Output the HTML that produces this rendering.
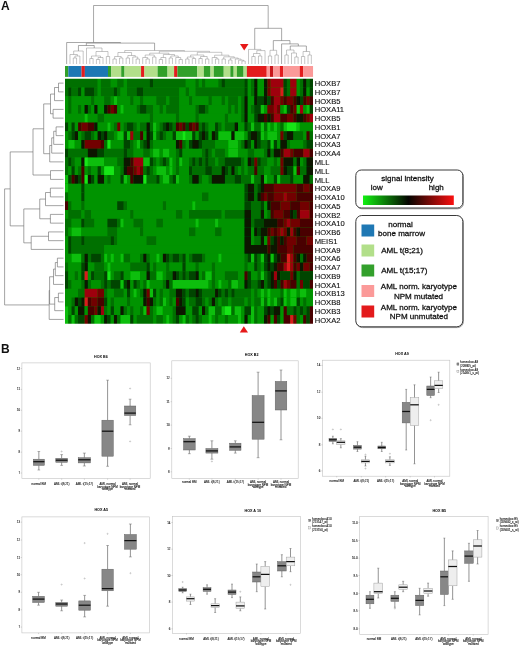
<!DOCTYPE html>
<html lang="en"><head><meta charset="utf-8"><title>HOX gene expression in AML</title>
<style>html,body{margin:0;padding:0;background:#fff}svg{display:block}text{font-family:"Liberation Sans", sans-serif}</style></head><body>
<svg width="520" height="649" viewBox="0 0 520 649">
<defs><linearGradient id="sig" x1="0" x2="1" y1="0" y2="0"><stop offset="0" stop-color="#12f012"/><stop offset="0.5" stop-color="#050500"/><stop offset="1" stop-color="#fa1010"/></linearGradient><filter id="soft" x="-2%" y="-2%" width="104%" height="104%"><feGaussianBlur stdDeviation="0.55"/></filter><filter id="soft2" x="-5%" y="-5%" width="110%" height="110%"><feGaussianBlur stdDeviation="0.3"/></filter><clipPath id="hmclip"><rect x="65" y="78.75" width="248" height="245.05"/></clipPath></defs>
<rect width="520" height="649" fill="#fff"/>
<text x="1" y="9.9" font-size="12" font-weight="bold" fill="#111">A</text>
<text x="1" y="353.4" font-size="12" font-weight="bold" fill="#111">B</text>
<path d="M78.43 45.5L94.24 45.5M78.43 45.5L78.43 51M94.24 45.5L94.24 48M86.34 43.1L154.58 43.1M86.34 43.1L86.34 45.5M154.58 43.1L154.58 50.5M66.65 42.5L120.46 42.5M66.65 42.5L66.65 64M120.46 42.5L120.46 43.1M290.27 46L306.39 46M290.27 46L290.27 50M306.39 46L306.39 51.5M281.59 43.9L298.33 43.9M281.59 43.9L281.59 64M298.33 43.9L298.33 46M273.32 40.6L289.96 40.6M273.32 40.6L273.32 50.3M289.96 40.6L289.96 43.9M254.72 28.3L281.64 28.3M254.72 28.3L254.72 49.4M281.64 28.3L281.64 40.6M93.56 5.5L268.18 5.5M93.56 5.5L93.56 42.5M268.18 5.5L268.18 28.3" fill="none" stroke="#6e6e6e" stroke-width="0.6"/>
<path d="M73.27 58L76.57 58M73.27 58L73.27 64M76.57 58L76.57 64M74.92 56L79.88 56M74.92 56L74.92 58M79.88 56L79.88 64M69.96 54.5L77.4 54.5M69.96 54.5L69.96 64M77.4 54.5L77.4 56M73.68 51L83.19 51M73.68 51L73.68 54.5M83.19 51L83.19 64M89.8 58.5L93.11 58.5M89.8 58.5L89.8 64M93.11 58.5L93.11 64M96.41 59.5L99.72 59.5M96.41 59.5L96.41 64M99.72 59.5L99.72 64M98.07 57.5L103.03 57.5M98.07 57.5L98.07 59.5M103.03 57.5L103.03 64M91.45 56L100.55 56M91.45 56L91.45 58.5M100.55 56L100.55 57.5M106.33 56.5L109.64 56.5M106.33 56.5L106.33 64M109.64 56.5L109.64 64M96 51.5L107.99 51.5M96 51.5L96 56M107.99 51.5L107.99 56.5M86.49 48L101.99 48M86.49 48L86.49 64M101.99 48L101.99 51.5M112.95 59L116.25 59M112.95 59L112.95 64M116.25 59L116.25 64M119.56 58L122.87 58M119.56 58L119.56 64M122.87 58L122.87 64M114.6 56.5L121.21 56.5M114.6 56.5L114.6 59M121.21 56.5L121.21 58M126.17 58L129.48 58M126.17 58L126.17 64M129.48 58L129.48 64M136.09 59L139.4 59M136.09 59L136.09 64M139.4 59L139.4 64M132.79 57L137.75 57M132.79 57L132.79 64M137.75 57L137.75 59M127.83 55.5L135.27 55.5M127.83 55.5L127.83 58M135.27 55.5L135.27 57M117.91 52.5L131.55 52.5M117.91 52.5L117.91 56.5M131.55 52.5L131.55 55.5M146.01 59L149.32 59M146.01 59L146.01 64M149.32 59L149.32 64M142.71 57.5L147.67 57.5M142.71 57.5L142.71 64M147.67 57.5L147.67 59M152.63 57L155.93 57M152.63 57L152.63 64M155.93 57L155.93 64M145.19 55L154.28 55M145.19 55L145.19 57.5M154.28 55L154.28 57M159.24 59.5L162.55 59.5M159.24 59.5L159.24 64M162.55 59.5L162.55 64M160.89 57.5L165.85 57.5M160.89 57.5L160.89 59.5M165.85 57.5L165.85 64M169.16 58L172.47 58M169.16 58L169.16 64M172.47 58L172.47 64M179.08 59.5L182.39 59.5M179.08 59.5L179.08 64M182.39 59.5L182.39 64M175.77 57.5L180.73 57.5M175.77 57.5L175.77 64M180.73 57.5L180.73 59.5M170.81 56L178.25 56M170.81 56L170.81 58M178.25 56L178.25 57.5M163.37 54.5L174.53 54.5M163.37 54.5L163.37 57.5M174.53 54.5L174.53 56M149.73 53.2L168.95 53.2M149.73 53.2L149.73 55M168.95 53.2L168.95 54.5M185.69 59L189 59M185.69 59L185.69 64M189 59L189 64M192.31 58.5L195.61 58.5M192.31 58.5L192.31 64M195.61 58.5L195.61 64M187.35 57L193.96 57M187.35 57L187.35 59M193.96 57L193.96 58.5M198.92 58.5L202.23 58.5M198.92 58.5L198.92 64M202.23 58.5L202.23 64M205.53 59L208.84 59M205.53 59L205.53 64M208.84 59L208.84 64M200.57 56.5L207.19 56.5M200.57 56.5L200.57 58.5M207.19 56.5L207.19 59M190.65 55L203.88 55M190.65 55L190.65 57M203.88 55L203.88 56.5M215.45 59L218.76 59M215.45 59L215.45 64M218.76 59L218.76 64M212.15 57.5L217.11 57.5M212.15 57.5L212.15 64M217.11 57.5L217.11 59M222.07 59L225.37 59M222.07 59L222.07 64M225.37 59L225.37 64M228.68 60L231.99 60M228.68 60L228.68 64M231.99 60L231.99 64M241.91 61L245.21 61M241.91 61L241.91 64M245.21 61L245.21 64M238.6 60.2L243.56 60.2M238.6 60.2L238.6 64M243.56 60.2L243.56 61M235.29 59L241.08 59M235.29 59L235.29 64M241.08 59L241.08 60.2M230.33 58L238.19 58M230.33 58L230.33 60M238.19 58L238.19 59M223.72 56.8L234.26 56.8M223.72 56.8L223.72 59M234.26 56.8L234.26 58M214.63 55.2L228.99 55.2M214.63 55.2L214.63 57.5M228.99 55.2L228.99 56.8M197.27 52.3L221.81 52.3M197.27 52.3L197.27 55M221.81 52.3L221.81 55.2M159.34 51.3L209.54 51.3M159.34 51.3L159.34 53.2M209.54 51.3L209.54 52.3M124.73 50.5L184.44 50.5M124.73 50.5L124.73 52.5M184.44 50.5L184.44 51.3M251.83 56.5L255.13 56.5M251.83 56.5L251.83 64M255.13 56.5L255.13 64M258.44 56L261.75 56M258.44 56L258.44 64M261.75 56L261.75 64M253.48 53.5L260.09 53.5M253.48 53.5L253.48 56.5M260.09 53.5L260.09 56M256.79 50.6L265.05 50.6M256.79 50.6L256.79 53.5M265.05 50.6L265.05 64M248.52 49.4L260.92 49.4M248.52 49.4L248.52 64M260.92 49.4L260.92 50.6M268.36 56L271.67 56M268.36 56L268.36 64M271.67 56L271.67 64M274.97 55L278.28 55M274.97 55L274.97 64M278.28 55L278.28 64M270.01 50.3L276.63 50.3M270.01 50.3L270.01 56M276.63 50.3L276.63 55M284.89 55L288.2 55M284.89 55L284.89 64M288.2 55L288.2 64M294.81 57L298.12 57M294.81 57L294.81 64M298.12 57L298.12 64M291.51 53L296.47 53M291.51 53L291.51 64M296.47 53L296.47 57M286.55 50L293.99 50M286.55 50L286.55 55M293.99 50L293.99 53M301.43 56.5L304.73 56.5M301.43 56.5L301.43 64M304.73 56.5L304.73 64M308.04 55L311.35 55M308.04 55L308.04 64M311.35 55L311.35 64M303.08 51.5L309.69 51.5M303.08 51.5L303.08 56.5M309.69 51.5L309.69 55" fill="none" stroke="#8c8c8c" stroke-width="0.5"/>
<path d="M58.5 83.13L58.5 91.88M58.5 83.13L63.5 83.13M58.5 91.88L63.5 91.88M54.5 87.5L54.5 100.63M54.5 87.5L58.5 87.5M54.5 100.63L63.5 100.63M53.1 109.38L53.1 118.13M53.1 109.38L63.5 109.38M53.1 118.13L63.5 118.13M50.5 94.07L50.5 113.76M50.5 94.07L54.5 94.07M50.5 113.76L53.1 113.76M56.1 126.88L56.1 135.64M56.1 126.88L63.5 126.88M56.1 135.64L63.5 135.64M53.7 131.26L53.7 144.39M53.7 131.26L56.1 131.26M53.7 144.39L63.5 144.39M51.7 137.82L51.7 153.14M51.7 137.82L53.7 137.82M51.7 153.14L63.5 153.14M49.7 145.48L49.7 161.89M49.7 145.48L51.7 145.48M49.7 161.89L63.5 161.89M43.7 103.91L43.7 153.69M43.7 103.91L50.5 103.91M43.7 153.69L49.7 153.69M50.5 170.64L50.5 179.4M50.5 170.64L63.5 170.64M50.5 179.4L63.5 179.4M33 128.8L33 175.02M33 128.8L43.7 128.8M33 175.02L50.5 175.02M50.4 188.15L50.4 196.9M50.4 188.15L63.5 188.15M50.4 196.9L63.5 196.9M45.5 192.52L45.5 205.65M45.5 192.52L50.4 192.52M45.5 205.65L63.5 205.65M50.4 214.4L50.4 223.15M50.4 214.4L63.5 214.4M50.4 223.15L63.5 223.15M39.75 199.09L39.75 218.78M39.75 199.09L45.5 199.09M39.75 218.78L50.4 218.78M48.5 231.91L48.5 240.66M48.5 231.91L63.5 231.91M48.5 240.66L63.5 240.66M31.2 236.28L31.2 249.41M31.2 236.28L48.5 236.28M31.2 249.41L63.5 249.41M23.8 208.93L23.8 242.85M23.8 208.93L39.75 208.93M23.8 242.85L31.2 242.85M10.2 151.91L10.2 225.89M10.2 151.91L33 151.91M10.2 225.89L23.8 225.89M57.4 258.16L57.4 266.91M57.4 258.16L63.5 258.16M57.4 266.91L63.5 266.91M55.3 262.54L55.3 275.67M55.3 262.54L57.4 262.54M55.3 275.67L63.5 275.67M53.5 269.1L53.5 284.42M53.5 269.1L55.3 269.1M53.5 284.42L63.5 284.42M58.4 293.17L58.4 301.92M58.4 293.17L63.5 293.17M58.4 301.92L63.5 301.92M54.7 297.54L54.7 310.67M54.7 297.54L58.4 297.54M54.7 310.67L63.5 310.67M49.6 276.76L49.6 304.11M49.6 276.76L53.5 276.76M49.6 304.11L54.7 304.11M49.2 290.43L49.2 319.42M49.2 290.43L49.6 290.43M49.2 319.42L63.5 319.42M4.6 188.9L4.6 304.93M4.6 188.9L10.2 188.9M4.6 304.93L49.2 304.93" fill="none" stroke="#666" stroke-width="0.6"/>
<path d="M240 43.9L248.5 43.9L244.2 50.6Z" fill="#e61919"/>
<path d="M243.8 326.2L248 332.4L239.8 332.4Z" fill="#e61919"/>
<g filter="url(#soft2)">
<rect x="65" y="66" width="3.36" height="10.9" fill="#33a02c"/>
<rect x="68.31" y="66" width="13.28" height="10.9" fill="#1f78b4"/>
<rect x="81.53" y="66" width="3.36" height="10.9" fill="#e31a1c"/>
<rect x="84.84" y="66" width="23.2" height="10.9" fill="#1f78b4"/>
<rect x="107.99" y="66" width="3.36" height="10.9" fill="#33a02c"/>
<rect x="111.29" y="66" width="9.97" height="10.9" fill="#b2df8a"/>
<rect x="121.21" y="66" width="3.36" height="10.9" fill="#33a02c"/>
<rect x="124.52" y="66" width="16.58" height="10.9" fill="#b2df8a"/>
<rect x="141.05" y="66" width="3.36" height="10.9" fill="#e31a1c"/>
<rect x="144.36" y="66" width="13.28" height="10.9" fill="#b2df8a"/>
<rect x="157.59" y="66" width="9.97" height="10.9" fill="#33a02c"/>
<rect x="167.51" y="66" width="6.66" height="10.9" fill="#b2df8a"/>
<rect x="174.12" y="66" width="3.36" height="10.9" fill="#e31a1c"/>
<rect x="177.43" y="66" width="19.89" height="10.9" fill="#33a02c"/>
<rect x="197.27" y="66" width="6.66" height="10.9" fill="#b2df8a"/>
<rect x="203.88" y="66" width="6.66" height="10.9" fill="#33a02c"/>
<rect x="210.49" y="66" width="3.36" height="10.9" fill="#b2df8a"/>
<rect x="213.8" y="66" width="9.97" height="10.9" fill="#33a02c"/>
<rect x="223.72" y="66" width="6.66" height="10.9" fill="#b2df8a"/>
<rect x="230.33" y="66" width="3.36" height="10.9" fill="#33a02c"/>
<rect x="233.64" y="66" width="3.36" height="10.9" fill="#b2df8a"/>
<rect x="236.95" y="66" width="6.66" height="10.9" fill="#33a02c"/>
<rect x="243.56" y="66" width="3.36" height="10.9" fill="#b2df8a"/>
<rect x="246.87" y="66" width="19.89" height="10.9" fill="#e31a1c"/>
<rect x="266.71" y="66" width="3.36" height="10.9" fill="#fb9a99"/>
<rect x="270.01" y="66" width="3.36" height="10.9" fill="#c8141a"/>
<rect x="273.32" y="66" width="6.66" height="10.9" fill="#fb9a99"/>
<rect x="279.93" y="66" width="3.36" height="10.9" fill="#e31a1c"/>
<rect x="283.24" y="66" width="16.58" height="10.9" fill="#fb9a99"/>
<rect x="299.77" y="66" width="3.36" height="10.9" fill="#e31a1c"/>
<rect x="303.08" y="66" width="9.97" height="10.9" fill="#fb9a99"/>
</g>
<g clip-path="url(#hmclip)"><g filter="url(#soft)">
<rect x="63" y="76.75" width="252" height="249.05" fill="#009300"/>
<rect x="63" y="76.75" width="34.68" height="10.8" fill="#006f00"/>
<rect x="97.63" y="76.75" width="3.31" height="10.8" fill="#009300"/>
<rect x="100.89" y="76.75" width="9.84" height="10.8" fill="#006f00"/>
<rect x="110.68" y="76.75" width="6.58" height="10.8" fill="#009300"/>
<rect x="117.21" y="76.75" width="6.58" height="10.8" fill="#006f00"/>
<rect x="123.74" y="76.75" width="3.31" height="10.8" fill="#009300"/>
<rect x="127" y="76.75" width="22.89" height="10.8" fill="#006f00"/>
<rect x="149.84" y="76.75" width="3.31" height="10.8" fill="#004400"/>
<rect x="153.11" y="76.75" width="32.68" height="10.8" fill="#006f00"/>
<rect x="185.74" y="76.75" width="9.84" height="10.8" fill="#009300"/>
<rect x="195.53" y="76.75" width="3.31" height="10.8" fill="#006f00"/>
<rect x="198.79" y="76.75" width="3.31" height="10.8" fill="#009300"/>
<rect x="202.05" y="76.75" width="3.31" height="10.8" fill="#006f00"/>
<rect x="205.32" y="76.75" width="13.1" height="10.8" fill="#009300"/>
<rect x="218.37" y="76.75" width="3.31" height="10.8" fill="#006f00"/>
<rect x="221.63" y="76.75" width="3.31" height="10.8" fill="#004400"/>
<rect x="224.89" y="76.75" width="19.63" height="10.8" fill="#006f00"/>
<rect x="244.47" y="76.75" width="3.31" height="10.8" fill="#004400"/>
<rect x="247.74" y="76.75" width="3.31" height="10.8" fill="#009300"/>
<rect x="251" y="76.75" width="3.31" height="10.8" fill="#006f00"/>
<rect x="254.26" y="76.75" width="3.31" height="10.8" fill="#081202"/>
<rect x="257.53" y="76.75" width="6.58" height="10.8" fill="#009300"/>
<rect x="264.05" y="76.75" width="3.31" height="10.8" fill="#081202"/>
<rect x="267.32" y="76.75" width="3.31" height="10.8" fill="#720004"/>
<rect x="270.58" y="76.75" width="13.1" height="10.8" fill="#9e0408"/>
<rect x="283.63" y="76.75" width="3.31" height="10.8" fill="#004400"/>
<rect x="286.89" y="76.75" width="3.31" height="10.8" fill="#006f00"/>
<rect x="290.16" y="76.75" width="6.58" height="10.8" fill="#9e0408"/>
<rect x="296.68" y="76.75" width="3.31" height="10.8" fill="#009300"/>
<rect x="299.95" y="76.75" width="3.31" height="10.8" fill="#006f00"/>
<rect x="303.21" y="76.75" width="3.31" height="10.8" fill="#081202"/>
<rect x="306.47" y="76.75" width="3.31" height="10.8" fill="#006f00"/>
<rect x="309.74" y="76.75" width="5.31" height="10.8" fill="#004400"/>
<rect x="63" y="87.5" width="5.31" height="8.8" fill="#006f00"/>
<rect x="68.26" y="87.5" width="3.31" height="8.8" fill="#004400"/>
<rect x="71.53" y="87.5" width="6.58" height="8.8" fill="#006f00"/>
<rect x="78.05" y="87.5" width="3.31" height="8.8" fill="#004400"/>
<rect x="81.32" y="87.5" width="3.31" height="8.8" fill="#009300"/>
<rect x="84.58" y="87.5" width="9.84" height="8.8" fill="#004400"/>
<rect x="94.37" y="87.5" width="3.31" height="8.8" fill="#006f00"/>
<rect x="97.63" y="87.5" width="3.31" height="8.8" fill="#009300"/>
<rect x="100.89" y="87.5" width="13.1" height="8.8" fill="#006f00"/>
<rect x="113.95" y="87.5" width="3.31" height="8.8" fill="#004400"/>
<rect x="117.21" y="87.5" width="3.31" height="8.8" fill="#006f00"/>
<rect x="120.47" y="87.5" width="6.58" height="8.8" fill="#009300"/>
<rect x="127" y="87.5" width="9.84" height="8.8" fill="#006f00"/>
<rect x="136.79" y="87.5" width="6.58" height="8.8" fill="#004400"/>
<rect x="143.32" y="87.5" width="35.94" height="8.8" fill="#006f00"/>
<rect x="179.21" y="87.5" width="6.58" height="8.8" fill="#009300"/>
<rect x="185.74" y="87.5" width="3.31" height="8.8" fill="#006f00"/>
<rect x="189" y="87.5" width="6.58" height="8.8" fill="#009300"/>
<rect x="195.53" y="87.5" width="49" height="8.8" fill="#006f00"/>
<rect x="244.47" y="87.5" width="3.31" height="8.8" fill="#004400"/>
<rect x="247.74" y="87.5" width="3.31" height="8.8" fill="#009300"/>
<rect x="251" y="87.5" width="3.31" height="8.8" fill="#006f00"/>
<rect x="254.26" y="87.5" width="3.31" height="8.8" fill="#081202"/>
<rect x="257.53" y="87.5" width="6.58" height="8.8" fill="#009300"/>
<rect x="264.05" y="87.5" width="3.31" height="8.8" fill="#081202"/>
<rect x="267.32" y="87.5" width="3.31" height="8.8" fill="#720004"/>
<rect x="270.58" y="87.5" width="9.84" height="8.8" fill="#9e0408"/>
<rect x="280.37" y="87.5" width="3.31" height="8.8" fill="#da1a1a"/>
<rect x="283.63" y="87.5" width="3.31" height="8.8" fill="#004400"/>
<rect x="286.89" y="87.5" width="3.31" height="8.8" fill="#006f00"/>
<rect x="290.16" y="87.5" width="6.58" height="8.8" fill="#9e0408"/>
<rect x="296.68" y="87.5" width="3.31" height="8.8" fill="#009300"/>
<rect x="299.95" y="87.5" width="3.31" height="8.8" fill="#006f00"/>
<rect x="303.21" y="87.5" width="3.31" height="8.8" fill="#081202"/>
<rect x="306.47" y="87.5" width="3.31" height="8.8" fill="#009300"/>
<rect x="309.74" y="87.5" width="5.31" height="8.8" fill="#004400"/>
<rect x="63" y="96.25" width="5.31" height="8.8" fill="#009300"/>
<rect x="68.26" y="96.25" width="3.31" height="8.8" fill="#006f00"/>
<rect x="71.53" y="96.25" width="19.63" height="8.8" fill="#009300"/>
<rect x="91.11" y="96.25" width="3.31" height="8.8" fill="#006f00"/>
<rect x="94.37" y="96.25" width="9.84" height="8.8" fill="#009300"/>
<rect x="104.16" y="96.25" width="6.58" height="8.8" fill="#006f00"/>
<rect x="110.68" y="96.25" width="3.31" height="8.8" fill="#009300"/>
<rect x="113.95" y="96.25" width="3.31" height="8.8" fill="#08be08"/>
<rect x="117.21" y="96.25" width="13.1" height="8.8" fill="#009300"/>
<rect x="130.26" y="96.25" width="3.31" height="8.8" fill="#006f00"/>
<rect x="133.53" y="96.25" width="6.58" height="8.8" fill="#009300"/>
<rect x="140.05" y="96.25" width="3.31" height="8.8" fill="#006f00"/>
<rect x="143.32" y="96.25" width="13.1" height="8.8" fill="#009300"/>
<rect x="156.37" y="96.25" width="9.84" height="8.8" fill="#006f00"/>
<rect x="166.16" y="96.25" width="3.31" height="8.8" fill="#009300"/>
<rect x="169.42" y="96.25" width="9.84" height="8.8" fill="#006f00"/>
<rect x="179.21" y="96.25" width="9.84" height="8.8" fill="#009300"/>
<rect x="189" y="96.25" width="3.31" height="8.8" fill="#006f00"/>
<rect x="192.26" y="96.25" width="16.37" height="8.8" fill="#009300"/>
<rect x="208.58" y="96.25" width="3.31" height="8.8" fill="#006f00"/>
<rect x="211.84" y="96.25" width="9.84" height="8.8" fill="#009300"/>
<rect x="221.63" y="96.25" width="3.31" height="8.8" fill="#006f00"/>
<rect x="224.89" y="96.25" width="3.31" height="8.8" fill="#009300"/>
<rect x="228.16" y="96.25" width="9.84" height="8.8" fill="#006f00"/>
<rect x="237.95" y="96.25" width="3.31" height="8.8" fill="#009300"/>
<rect x="241.21" y="96.25" width="3.31" height="8.8" fill="#006f00"/>
<rect x="244.47" y="96.25" width="3.31" height="8.8" fill="#081202"/>
<rect x="247.74" y="96.25" width="6.58" height="8.8" fill="#009300"/>
<rect x="254.26" y="96.25" width="3.31" height="8.8" fill="#081202"/>
<rect x="257.53" y="96.25" width="6.58" height="8.8" fill="#004400"/>
<rect x="264.05" y="96.25" width="3.31" height="8.8" fill="#081202"/>
<rect x="267.32" y="96.25" width="3.31" height="8.8" fill="#004400"/>
<rect x="270.58" y="96.25" width="3.31" height="8.8" fill="#480000"/>
<rect x="273.84" y="96.25" width="6.58" height="8.8" fill="#9e0408"/>
<rect x="280.37" y="96.25" width="3.31" height="8.8" fill="#720004"/>
<rect x="283.63" y="96.25" width="3.31" height="8.8" fill="#480000"/>
<rect x="286.89" y="96.25" width="6.58" height="8.8" fill="#720004"/>
<rect x="293.42" y="96.25" width="3.31" height="8.8" fill="#480000"/>
<rect x="296.68" y="96.25" width="3.31" height="8.8" fill="#081202"/>
<rect x="299.95" y="96.25" width="3.31" height="8.8" fill="#004400"/>
<rect x="303.21" y="96.25" width="3.31" height="8.8" fill="#480000"/>
<rect x="306.47" y="96.25" width="3.31" height="8.8" fill="#720004"/>
<rect x="309.74" y="96.25" width="5.31" height="8.8" fill="#480000"/>
<rect x="63" y="105.01" width="5.31" height="8.8" fill="#009300"/>
<rect x="68.26" y="105.01" width="3.31" height="8.8" fill="#006f00"/>
<rect x="71.53" y="105.01" width="6.58" height="8.8" fill="#009300"/>
<rect x="78.05" y="105.01" width="3.31" height="8.8" fill="#006f00"/>
<rect x="81.32" y="105.01" width="3.31" height="8.8" fill="#009300"/>
<rect x="84.58" y="105.01" width="3.31" height="8.8" fill="#081202"/>
<rect x="87.84" y="105.01" width="3.31" height="8.8" fill="#006f00"/>
<rect x="91.11" y="105.01" width="3.31" height="8.8" fill="#009300"/>
<rect x="94.37" y="105.01" width="3.31" height="8.8" fill="#081202"/>
<rect x="97.63" y="105.01" width="6.58" height="8.8" fill="#009300"/>
<rect x="104.16" y="105.01" width="3.31" height="8.8" fill="#081202"/>
<rect x="107.42" y="105.01" width="3.31" height="8.8" fill="#480000"/>
<rect x="110.68" y="105.01" width="3.31" height="8.8" fill="#720004"/>
<rect x="113.95" y="105.01" width="3.31" height="8.8" fill="#480000"/>
<rect x="117.21" y="105.01" width="3.31" height="8.8" fill="#009300"/>
<rect x="120.47" y="105.01" width="3.31" height="8.8" fill="#08be08"/>
<rect x="123.74" y="105.01" width="13.1" height="8.8" fill="#009300"/>
<rect x="136.79" y="105.01" width="3.31" height="8.8" fill="#006f00"/>
<rect x="140.05" y="105.01" width="6.58" height="8.8" fill="#004400"/>
<rect x="146.58" y="105.01" width="6.58" height="8.8" fill="#006f00"/>
<rect x="153.11" y="105.01" width="6.58" height="8.8" fill="#009300"/>
<rect x="159.63" y="105.01" width="3.31" height="8.8" fill="#006f00"/>
<rect x="162.89" y="105.01" width="3.31" height="8.8" fill="#009300"/>
<rect x="166.16" y="105.01" width="13.1" height="8.8" fill="#006f00"/>
<rect x="179.21" y="105.01" width="16.37" height="8.8" fill="#009300"/>
<rect x="195.53" y="105.01" width="3.31" height="8.8" fill="#006f00"/>
<rect x="198.79" y="105.01" width="6.58" height="8.8" fill="#004400"/>
<rect x="205.32" y="105.01" width="3.31" height="8.8" fill="#006f00"/>
<rect x="208.58" y="105.01" width="19.63" height="8.8" fill="#009300"/>
<rect x="228.16" y="105.01" width="3.31" height="8.8" fill="#006f00"/>
<rect x="231.42" y="105.01" width="3.31" height="8.8" fill="#009300"/>
<rect x="234.68" y="105.01" width="3.31" height="8.8" fill="#006f00"/>
<rect x="237.95" y="105.01" width="3.31" height="8.8" fill="#009300"/>
<rect x="241.21" y="105.01" width="3.31" height="8.8" fill="#006f00"/>
<rect x="244.47" y="105.01" width="3.31" height="8.8" fill="#081202"/>
<rect x="247.74" y="105.01" width="3.31" height="8.8" fill="#009300"/>
<rect x="251" y="105.01" width="3.31" height="8.8" fill="#006f00"/>
<rect x="254.26" y="105.01" width="6.58" height="8.8" fill="#004400"/>
<rect x="260.79" y="105.01" width="3.31" height="8.8" fill="#08be08"/>
<rect x="264.05" y="105.01" width="3.31" height="8.8" fill="#009300"/>
<rect x="267.32" y="105.01" width="6.58" height="8.8" fill="#720004"/>
<rect x="273.84" y="105.01" width="3.31" height="8.8" fill="#9e0408"/>
<rect x="277.11" y="105.01" width="3.31" height="8.8" fill="#720004"/>
<rect x="280.37" y="105.01" width="3.31" height="8.8" fill="#009300"/>
<rect x="283.63" y="105.01" width="3.31" height="8.8" fill="#08be08"/>
<rect x="286.89" y="105.01" width="3.31" height="8.8" fill="#004400"/>
<rect x="290.16" y="105.01" width="3.31" height="8.8" fill="#480000"/>
<rect x="293.42" y="105.01" width="3.31" height="8.8" fill="#720004"/>
<rect x="296.68" y="105.01" width="3.31" height="8.8" fill="#08be08"/>
<rect x="299.95" y="105.01" width="3.31" height="8.8" fill="#9e0408"/>
<rect x="303.21" y="105.01" width="3.31" height="8.8" fill="#009300"/>
<rect x="306.47" y="105.01" width="3.31" height="8.8" fill="#08be08"/>
<rect x="309.74" y="105.01" width="5.31" height="8.8" fill="#004400"/>
<rect x="63" y="113.76" width="21.63" height="8.8" fill="#009300"/>
<rect x="84.58" y="113.76" width="3.31" height="8.8" fill="#08be08"/>
<rect x="87.84" y="113.76" width="9.84" height="8.8" fill="#009300"/>
<rect x="97.63" y="113.76" width="6.58" height="8.8" fill="#006f00"/>
<rect x="104.16" y="113.76" width="45.73" height="8.8" fill="#009300"/>
<rect x="149.84" y="113.76" width="3.31" height="8.8" fill="#006f00"/>
<rect x="153.11" y="113.76" width="22.89" height="8.8" fill="#009300"/>
<rect x="175.95" y="113.76" width="3.31" height="8.8" fill="#006f00"/>
<rect x="179.21" y="113.76" width="16.37" height="8.8" fill="#009300"/>
<rect x="195.53" y="113.76" width="3.31" height="8.8" fill="#006f00"/>
<rect x="198.79" y="113.76" width="26.16" height="8.8" fill="#009300"/>
<rect x="224.89" y="113.76" width="3.31" height="8.8" fill="#006f00"/>
<rect x="228.16" y="113.76" width="13.1" height="8.8" fill="#009300"/>
<rect x="241.21" y="113.76" width="3.31" height="8.8" fill="#006f00"/>
<rect x="244.47" y="113.76" width="3.31" height="8.8" fill="#081202"/>
<rect x="247.74" y="113.76" width="6.58" height="8.8" fill="#009300"/>
<rect x="254.26" y="113.76" width="3.31" height="8.8" fill="#004400"/>
<rect x="257.53" y="113.76" width="6.58" height="8.8" fill="#081202"/>
<rect x="264.05" y="113.76" width="3.31" height="8.8" fill="#480000"/>
<rect x="267.32" y="113.76" width="3.31" height="8.8" fill="#081202"/>
<rect x="270.58" y="113.76" width="3.31" height="8.8" fill="#480000"/>
<rect x="273.84" y="113.76" width="6.58" height="8.8" fill="#9e0408"/>
<rect x="280.37" y="113.76" width="6.58" height="8.8" fill="#480000"/>
<rect x="286.89" y="113.76" width="6.58" height="8.8" fill="#720004"/>
<rect x="293.42" y="113.76" width="3.31" height="8.8" fill="#480000"/>
<rect x="296.68" y="113.76" width="6.58" height="8.8" fill="#081202"/>
<rect x="303.21" y="113.76" width="3.31" height="8.8" fill="#480000"/>
<rect x="306.47" y="113.76" width="3.31" height="8.8" fill="#720004"/>
<rect x="309.74" y="113.76" width="5.31" height="8.8" fill="#9e0408"/>
<rect x="63" y="122.51" width="5.31" height="8.8" fill="#004400"/>
<rect x="68.26" y="122.51" width="3.31" height="8.8" fill="#009300"/>
<rect x="71.53" y="122.51" width="3.31" height="8.8" fill="#004400"/>
<rect x="74.79" y="122.51" width="3.31" height="8.8" fill="#009300"/>
<rect x="78.05" y="122.51" width="3.31" height="8.8" fill="#480000"/>
<rect x="81.32" y="122.51" width="6.58" height="8.8" fill="#720004"/>
<rect x="87.84" y="122.51" width="6.58" height="8.8" fill="#480000"/>
<rect x="94.37" y="122.51" width="3.31" height="8.8" fill="#081202"/>
<rect x="97.63" y="122.51" width="9.84" height="8.8" fill="#009300"/>
<rect x="107.42" y="122.51" width="3.31" height="8.8" fill="#08be08"/>
<rect x="110.68" y="122.51" width="3.31" height="8.8" fill="#009300"/>
<rect x="113.95" y="122.51" width="3.31" height="8.8" fill="#006f00"/>
<rect x="117.21" y="122.51" width="3.31" height="8.8" fill="#720004"/>
<rect x="120.47" y="122.51" width="3.31" height="8.8" fill="#009300"/>
<rect x="123.74" y="122.51" width="3.31" height="8.8" fill="#006f00"/>
<rect x="127" y="122.51" width="6.58" height="8.8" fill="#004400"/>
<rect x="133.53" y="122.51" width="3.31" height="8.8" fill="#006f00"/>
<rect x="136.79" y="122.51" width="3.31" height="8.8" fill="#009300"/>
<rect x="140.05" y="122.51" width="6.58" height="8.8" fill="#006f00"/>
<rect x="146.58" y="122.51" width="3.31" height="8.8" fill="#081202"/>
<rect x="149.84" y="122.51" width="3.31" height="8.8" fill="#006f00"/>
<rect x="153.11" y="122.51" width="3.31" height="8.8" fill="#08be08"/>
<rect x="156.37" y="122.51" width="3.31" height="8.8" fill="#009300"/>
<rect x="159.63" y="122.51" width="3.31" height="8.8" fill="#006f00"/>
<rect x="162.89" y="122.51" width="3.31" height="8.8" fill="#004400"/>
<rect x="166.16" y="122.51" width="3.31" height="8.8" fill="#081202"/>
<rect x="169.42" y="122.51" width="3.31" height="8.8" fill="#004400"/>
<rect x="172.68" y="122.51" width="3.31" height="8.8" fill="#006f00"/>
<rect x="175.95" y="122.51" width="3.31" height="8.8" fill="#480000"/>
<rect x="179.21" y="122.51" width="3.31" height="8.8" fill="#720004"/>
<rect x="182.47" y="122.51" width="3.31" height="8.8" fill="#480000"/>
<rect x="185.74" y="122.51" width="3.31" height="8.8" fill="#004400"/>
<rect x="189" y="122.51" width="3.31" height="8.8" fill="#480000"/>
<rect x="192.26" y="122.51" width="3.31" height="8.8" fill="#720004"/>
<rect x="195.53" y="122.51" width="3.31" height="8.8" fill="#480000"/>
<rect x="198.79" y="122.51" width="3.31" height="8.8" fill="#006f00"/>
<rect x="202.05" y="122.51" width="3.31" height="8.8" fill="#004400"/>
<rect x="205.32" y="122.51" width="3.31" height="8.8" fill="#006f00"/>
<rect x="208.58" y="122.51" width="6.58" height="8.8" fill="#009300"/>
<rect x="215.11" y="122.51" width="3.31" height="8.8" fill="#004400"/>
<rect x="218.37" y="122.51" width="3.31" height="8.8" fill="#006f00"/>
<rect x="221.63" y="122.51" width="3.31" height="8.8" fill="#009300"/>
<rect x="224.89" y="122.51" width="9.84" height="8.8" fill="#006f00"/>
<rect x="234.68" y="122.51" width="3.31" height="8.8" fill="#081202"/>
<rect x="237.95" y="122.51" width="6.58" height="8.8" fill="#009300"/>
<rect x="244.47" y="122.51" width="3.31" height="8.8" fill="#004400"/>
<rect x="247.74" y="122.51" width="3.31" height="8.8" fill="#006f00"/>
<rect x="251" y="122.51" width="3.31" height="8.8" fill="#08be08"/>
<rect x="254.26" y="122.51" width="6.58" height="8.8" fill="#006f00"/>
<rect x="260.79" y="122.51" width="3.31" height="8.8" fill="#08be08"/>
<rect x="264.05" y="122.51" width="3.31" height="8.8" fill="#006f00"/>
<rect x="267.32" y="122.51" width="3.31" height="8.8" fill="#08be08"/>
<rect x="270.58" y="122.51" width="3.31" height="8.8" fill="#009300"/>
<rect x="273.84" y="122.51" width="3.31" height="8.8" fill="#08be08"/>
<rect x="277.11" y="122.51" width="3.31" height="8.8" fill="#009300"/>
<rect x="280.37" y="122.51" width="3.31" height="8.8" fill="#006f00"/>
<rect x="283.63" y="122.51" width="3.31" height="8.8" fill="#08be08"/>
<rect x="286.89" y="122.51" width="9.84" height="8.8" fill="#19e619"/>
<rect x="296.68" y="122.51" width="3.31" height="8.8" fill="#08be08"/>
<rect x="299.95" y="122.51" width="15.1" height="8.8" fill="#009300"/>
<rect x="63" y="131.26" width="5.31" height="8.8" fill="#009300"/>
<rect x="68.26" y="131.26" width="3.31" height="8.8" fill="#006f00"/>
<rect x="71.53" y="131.26" width="3.31" height="8.8" fill="#004400"/>
<rect x="74.79" y="131.26" width="3.31" height="8.8" fill="#081202"/>
<rect x="78.05" y="131.26" width="3.31" height="8.8" fill="#009300"/>
<rect x="81.32" y="131.26" width="3.31" height="8.8" fill="#006f00"/>
<rect x="84.58" y="131.26" width="6.58" height="8.8" fill="#004400"/>
<rect x="91.11" y="131.26" width="3.31" height="8.8" fill="#006f00"/>
<rect x="94.37" y="131.26" width="3.31" height="8.8" fill="#009300"/>
<rect x="97.63" y="131.26" width="3.31" height="8.8" fill="#081202"/>
<rect x="100.89" y="131.26" width="3.31" height="8.8" fill="#004400"/>
<rect x="104.16" y="131.26" width="3.31" height="8.8" fill="#081202"/>
<rect x="107.42" y="131.26" width="6.58" height="8.8" fill="#006f00"/>
<rect x="113.95" y="131.26" width="3.31" height="8.8" fill="#009300"/>
<rect x="117.21" y="131.26" width="6.58" height="8.8" fill="#08be08"/>
<rect x="123.74" y="131.26" width="3.31" height="8.8" fill="#004400"/>
<rect x="127" y="131.26" width="3.31" height="8.8" fill="#08be08"/>
<rect x="130.26" y="131.26" width="3.31" height="8.8" fill="#9e0408"/>
<rect x="133.53" y="131.26" width="6.58" height="8.8" fill="#006f00"/>
<rect x="140.05" y="131.26" width="3.31" height="8.8" fill="#480000"/>
<rect x="143.32" y="131.26" width="3.31" height="8.8" fill="#009300"/>
<rect x="146.58" y="131.26" width="3.31" height="8.8" fill="#081202"/>
<rect x="149.84" y="131.26" width="3.31" height="8.8" fill="#004400"/>
<rect x="153.11" y="131.26" width="3.31" height="8.8" fill="#08be08"/>
<rect x="156.37" y="131.26" width="3.31" height="8.8" fill="#006f00"/>
<rect x="159.63" y="131.26" width="3.31" height="8.8" fill="#004400"/>
<rect x="162.89" y="131.26" width="3.31" height="8.8" fill="#006f00"/>
<rect x="166.16" y="131.26" width="6.58" height="8.8" fill="#009300"/>
<rect x="172.68" y="131.26" width="3.31" height="8.8" fill="#004400"/>
<rect x="175.95" y="131.26" width="6.58" height="8.8" fill="#08be08"/>
<rect x="182.47" y="131.26" width="3.31" height="8.8" fill="#19e619"/>
<rect x="185.74" y="131.26" width="6.58" height="8.8" fill="#08be08"/>
<rect x="192.26" y="131.26" width="3.31" height="8.8" fill="#004400"/>
<rect x="195.53" y="131.26" width="3.31" height="8.8" fill="#009300"/>
<rect x="198.79" y="131.26" width="3.31" height="8.8" fill="#004400"/>
<rect x="202.05" y="131.26" width="3.31" height="8.8" fill="#081202"/>
<rect x="205.32" y="131.26" width="3.31" height="8.8" fill="#004400"/>
<rect x="208.58" y="131.26" width="3.31" height="8.8" fill="#009300"/>
<rect x="211.84" y="131.26" width="3.31" height="8.8" fill="#081202"/>
<rect x="215.11" y="131.26" width="3.31" height="8.8" fill="#004400"/>
<rect x="218.37" y="131.26" width="13.1" height="8.8" fill="#08be08"/>
<rect x="231.42" y="131.26" width="3.31" height="8.8" fill="#081202"/>
<rect x="234.68" y="131.26" width="9.84" height="8.8" fill="#08be08"/>
<rect x="244.47" y="131.26" width="3.31" height="8.8" fill="#009300"/>
<rect x="247.74" y="131.26" width="3.31" height="8.8" fill="#004400"/>
<rect x="251" y="131.26" width="6.58" height="8.8" fill="#081202"/>
<rect x="257.53" y="131.26" width="3.31" height="8.8" fill="#004400"/>
<rect x="260.79" y="131.26" width="3.31" height="8.8" fill="#08be08"/>
<rect x="264.05" y="131.26" width="3.31" height="8.8" fill="#009300"/>
<rect x="267.32" y="131.26" width="9.84" height="8.8" fill="#08be08"/>
<rect x="277.11" y="131.26" width="3.31" height="8.8" fill="#009300"/>
<rect x="280.37" y="131.26" width="3.31" height="8.8" fill="#720004"/>
<rect x="283.63" y="131.26" width="3.31" height="8.8" fill="#004400"/>
<rect x="286.89" y="131.26" width="6.58" height="8.8" fill="#081202"/>
<rect x="293.42" y="131.26" width="9.84" height="8.8" fill="#006f00"/>
<rect x="303.21" y="131.26" width="3.31" height="8.8" fill="#009300"/>
<rect x="306.47" y="131.26" width="3.31" height="8.8" fill="#480000"/>
<rect x="309.74" y="131.26" width="5.31" height="8.8" fill="#006f00"/>
<rect x="63" y="140.01" width="5.31" height="8.8" fill="#009300"/>
<rect x="68.26" y="140.01" width="6.58" height="8.8" fill="#08be08"/>
<rect x="74.79" y="140.01" width="6.58" height="8.8" fill="#009300"/>
<rect x="81.32" y="140.01" width="3.31" height="8.8" fill="#081202"/>
<rect x="84.58" y="140.01" width="16.37" height="8.8" fill="#720004"/>
<rect x="100.89" y="140.01" width="3.31" height="8.8" fill="#480000"/>
<rect x="104.16" y="140.01" width="3.31" height="8.8" fill="#006f00"/>
<rect x="107.42" y="140.01" width="3.31" height="8.8" fill="#19e619"/>
<rect x="110.68" y="140.01" width="13.1" height="8.8" fill="#009300"/>
<rect x="123.74" y="140.01" width="6.58" height="8.8" fill="#004400"/>
<rect x="130.26" y="140.01" width="3.31" height="8.8" fill="#006f00"/>
<rect x="133.53" y="140.01" width="3.31" height="8.8" fill="#009300"/>
<rect x="136.79" y="140.01" width="3.31" height="8.8" fill="#08be08"/>
<rect x="140.05" y="140.01" width="3.31" height="8.8" fill="#006f00"/>
<rect x="143.32" y="140.01" width="3.31" height="8.8" fill="#004400"/>
<rect x="146.58" y="140.01" width="3.31" height="8.8" fill="#081202"/>
<rect x="149.84" y="140.01" width="3.31" height="8.8" fill="#006f00"/>
<rect x="153.11" y="140.01" width="22.89" height="8.8" fill="#009300"/>
<rect x="175.95" y="140.01" width="3.31" height="8.8" fill="#081202"/>
<rect x="179.21" y="140.01" width="3.31" height="8.8" fill="#480000"/>
<rect x="182.47" y="140.01" width="3.31" height="8.8" fill="#006f00"/>
<rect x="185.74" y="140.01" width="3.31" height="8.8" fill="#009300"/>
<rect x="189" y="140.01" width="3.31" height="8.8" fill="#004400"/>
<rect x="192.26" y="140.01" width="6.58" height="8.8" fill="#081202"/>
<rect x="198.79" y="140.01" width="3.31" height="8.8" fill="#004400"/>
<rect x="202.05" y="140.01" width="13.1" height="8.8" fill="#006f00"/>
<rect x="215.11" y="140.01" width="13.1" height="8.8" fill="#009300"/>
<rect x="228.16" y="140.01" width="9.84" height="8.8" fill="#08be08"/>
<rect x="237.95" y="140.01" width="3.31" height="8.8" fill="#009300"/>
<rect x="241.21" y="140.01" width="3.31" height="8.8" fill="#006f00"/>
<rect x="244.47" y="140.01" width="3.31" height="8.8" fill="#081202"/>
<rect x="247.74" y="140.01" width="3.31" height="8.8" fill="#004400"/>
<rect x="251" y="140.01" width="3.31" height="8.8" fill="#009300"/>
<rect x="254.26" y="140.01" width="3.31" height="8.8" fill="#081202"/>
<rect x="257.53" y="140.01" width="3.31" height="8.8" fill="#004400"/>
<rect x="260.79" y="140.01" width="6.58" height="8.8" fill="#006f00"/>
<rect x="267.32" y="140.01" width="3.31" height="8.8" fill="#004400"/>
<rect x="270.58" y="140.01" width="3.31" height="8.8" fill="#08be08"/>
<rect x="273.84" y="140.01" width="3.31" height="8.8" fill="#004400"/>
<rect x="277.11" y="140.01" width="3.31" height="8.8" fill="#009300"/>
<rect x="280.37" y="140.01" width="6.58" height="8.8" fill="#081202"/>
<rect x="286.89" y="140.01" width="3.31" height="8.8" fill="#006f00"/>
<rect x="290.16" y="140.01" width="13.1" height="8.8" fill="#009300"/>
<rect x="303.21" y="140.01" width="3.31" height="8.8" fill="#006f00"/>
<rect x="306.47" y="140.01" width="8.58" height="8.8" fill="#004400"/>
<rect x="63" y="148.76" width="5.31" height="8.8" fill="#004400"/>
<rect x="68.26" y="148.76" width="19.63" height="8.8" fill="#006f00"/>
<rect x="87.84" y="148.76" width="9.84" height="8.8" fill="#081202"/>
<rect x="97.63" y="148.76" width="6.58" height="8.8" fill="#004400"/>
<rect x="104.16" y="148.76" width="19.63" height="8.8" fill="#006f00"/>
<rect x="123.74" y="148.76" width="3.31" height="8.8" fill="#004400"/>
<rect x="127" y="148.76" width="6.58" height="8.8" fill="#006f00"/>
<rect x="133.53" y="148.76" width="9.84" height="8.8" fill="#009300"/>
<rect x="143.32" y="148.76" width="6.58" height="8.8" fill="#006f00"/>
<rect x="149.84" y="148.76" width="3.31" height="8.8" fill="#009300"/>
<rect x="153.11" y="148.76" width="6.58" height="8.8" fill="#08be08"/>
<rect x="159.63" y="148.76" width="3.31" height="8.8" fill="#009300"/>
<rect x="162.89" y="148.76" width="6.58" height="8.8" fill="#08be08"/>
<rect x="169.42" y="148.76" width="6.58" height="8.8" fill="#009300"/>
<rect x="175.95" y="148.76" width="3.31" height="8.8" fill="#006f00"/>
<rect x="179.21" y="148.76" width="3.31" height="8.8" fill="#004400"/>
<rect x="182.47" y="148.76" width="19.63" height="8.8" fill="#009300"/>
<rect x="202.05" y="148.76" width="3.31" height="8.8" fill="#006f00"/>
<rect x="205.32" y="148.76" width="3.31" height="8.8" fill="#004400"/>
<rect x="208.58" y="148.76" width="3.31" height="8.8" fill="#006f00"/>
<rect x="211.84" y="148.76" width="3.31" height="8.8" fill="#009300"/>
<rect x="215.11" y="148.76" width="9.84" height="8.8" fill="#006f00"/>
<rect x="224.89" y="148.76" width="3.31" height="8.8" fill="#009300"/>
<rect x="228.16" y="148.76" width="9.84" height="8.8" fill="#08be08"/>
<rect x="237.95" y="148.76" width="9.84" height="8.8" fill="#009300"/>
<rect x="247.74" y="148.76" width="6.58" height="8.8" fill="#006f00"/>
<rect x="254.26" y="148.76" width="9.84" height="8.8" fill="#009300"/>
<rect x="264.05" y="148.76" width="3.31" height="8.8" fill="#006f00"/>
<rect x="267.32" y="148.76" width="3.31" height="8.8" fill="#081202"/>
<rect x="270.58" y="148.76" width="3.31" height="8.8" fill="#006f00"/>
<rect x="273.84" y="148.76" width="6.58" height="8.8" fill="#081202"/>
<rect x="280.37" y="148.76" width="3.31" height="8.8" fill="#480000"/>
<rect x="283.63" y="148.76" width="6.58" height="8.8" fill="#9e0408"/>
<rect x="290.16" y="148.76" width="3.31" height="8.8" fill="#720004"/>
<rect x="293.42" y="148.76" width="9.84" height="8.8" fill="#480000"/>
<rect x="303.21" y="148.76" width="6.58" height="8.8" fill="#9e0408"/>
<rect x="309.74" y="148.76" width="5.31" height="8.8" fill="#480000"/>
<rect x="63" y="157.52" width="5.31" height="8.8" fill="#006f00"/>
<rect x="68.26" y="157.52" width="3.31" height="8.8" fill="#004400"/>
<rect x="71.53" y="157.52" width="3.31" height="8.8" fill="#006f00"/>
<rect x="74.79" y="157.52" width="6.58" height="8.8" fill="#009300"/>
<rect x="81.32" y="157.52" width="3.31" height="8.8" fill="#081202"/>
<rect x="84.58" y="157.52" width="3.31" height="8.8" fill="#19e619"/>
<rect x="87.84" y="157.52" width="16.37" height="8.8" fill="#08be08"/>
<rect x="104.16" y="157.52" width="13.1" height="8.8" fill="#009300"/>
<rect x="117.21" y="157.52" width="6.58" height="8.8" fill="#006f00"/>
<rect x="123.74" y="157.52" width="6.58" height="8.8" fill="#081202"/>
<rect x="130.26" y="157.52" width="3.31" height="8.8" fill="#480000"/>
<rect x="133.53" y="157.52" width="9.84" height="8.8" fill="#9e0408"/>
<rect x="143.32" y="157.52" width="6.58" height="8.8" fill="#08be08"/>
<rect x="149.84" y="157.52" width="3.31" height="8.8" fill="#004400"/>
<rect x="153.11" y="157.52" width="3.31" height="8.8" fill="#006f00"/>
<rect x="156.37" y="157.52" width="3.31" height="8.8" fill="#009300"/>
<rect x="159.63" y="157.52" width="3.31" height="8.8" fill="#006f00"/>
<rect x="162.89" y="157.52" width="3.31" height="8.8" fill="#004400"/>
<rect x="166.16" y="157.52" width="3.31" height="8.8" fill="#006f00"/>
<rect x="169.42" y="157.52" width="3.31" height="8.8" fill="#08be08"/>
<rect x="172.68" y="157.52" width="3.31" height="8.8" fill="#009300"/>
<rect x="175.95" y="157.52" width="3.31" height="8.8" fill="#006f00"/>
<rect x="179.21" y="157.52" width="3.31" height="8.8" fill="#08be08"/>
<rect x="182.47" y="157.52" width="6.58" height="8.8" fill="#009300"/>
<rect x="189" y="157.52" width="3.31" height="8.8" fill="#006f00"/>
<rect x="192.26" y="157.52" width="3.31" height="8.8" fill="#004400"/>
<rect x="195.53" y="157.52" width="3.31" height="8.8" fill="#006f00"/>
<rect x="198.79" y="157.52" width="3.31" height="8.8" fill="#004400"/>
<rect x="202.05" y="157.52" width="3.31" height="8.8" fill="#006f00"/>
<rect x="205.32" y="157.52" width="3.31" height="8.8" fill="#004400"/>
<rect x="208.58" y="157.52" width="6.58" height="8.8" fill="#006f00"/>
<rect x="215.11" y="157.52" width="3.31" height="8.8" fill="#009300"/>
<rect x="218.37" y="157.52" width="6.58" height="8.8" fill="#006f00"/>
<rect x="224.89" y="157.52" width="16.37" height="8.8" fill="#004400"/>
<rect x="241.21" y="157.52" width="3.31" height="8.8" fill="#006f00"/>
<rect x="244.47" y="157.52" width="3.31" height="8.8" fill="#009300"/>
<rect x="247.74" y="157.52" width="3.31" height="8.8" fill="#081202"/>
<rect x="251" y="157.52" width="3.31" height="8.8" fill="#004400"/>
<rect x="254.26" y="157.52" width="3.31" height="8.8" fill="#720004"/>
<rect x="257.53" y="157.52" width="3.31" height="8.8" fill="#004400"/>
<rect x="260.79" y="157.52" width="6.58" height="8.8" fill="#006f00"/>
<rect x="267.32" y="157.52" width="6.58" height="8.8" fill="#009300"/>
<rect x="273.84" y="157.52" width="3.31" height="8.8" fill="#006f00"/>
<rect x="277.11" y="157.52" width="3.31" height="8.8" fill="#009300"/>
<rect x="280.37" y="157.52" width="3.31" height="8.8" fill="#720004"/>
<rect x="283.63" y="157.52" width="9.84" height="8.8" fill="#081202"/>
<rect x="293.42" y="157.52" width="3.31" height="8.8" fill="#006f00"/>
<rect x="296.68" y="157.52" width="3.31" height="8.8" fill="#081202"/>
<rect x="299.95" y="157.52" width="3.31" height="8.8" fill="#009300"/>
<rect x="303.21" y="157.52" width="3.31" height="8.8" fill="#006f00"/>
<rect x="306.47" y="157.52" width="8.58" height="8.8" fill="#081202"/>
<rect x="63" y="166.27" width="5.31" height="8.8" fill="#006f00"/>
<rect x="68.26" y="166.27" width="3.31" height="8.8" fill="#009300"/>
<rect x="71.53" y="166.27" width="3.31" height="8.8" fill="#004400"/>
<rect x="74.79" y="166.27" width="3.31" height="8.8" fill="#009300"/>
<rect x="78.05" y="166.27" width="3.31" height="8.8" fill="#006f00"/>
<rect x="81.32" y="166.27" width="3.31" height="8.8" fill="#480000"/>
<rect x="84.58" y="166.27" width="3.31" height="8.8" fill="#009300"/>
<rect x="87.84" y="166.27" width="3.31" height="8.8" fill="#006f00"/>
<rect x="91.11" y="166.27" width="6.58" height="8.8" fill="#009300"/>
<rect x="97.63" y="166.27" width="3.31" height="8.8" fill="#004400"/>
<rect x="100.89" y="166.27" width="3.31" height="8.8" fill="#009300"/>
<rect x="104.16" y="166.27" width="9.84" height="8.8" fill="#19e619"/>
<rect x="113.95" y="166.27" width="6.58" height="8.8" fill="#009300"/>
<rect x="120.47" y="166.27" width="3.31" height="8.8" fill="#006f00"/>
<rect x="123.74" y="166.27" width="3.31" height="8.8" fill="#081202"/>
<rect x="127" y="166.27" width="6.58" height="8.8" fill="#480000"/>
<rect x="133.53" y="166.27" width="3.31" height="8.8" fill="#720004"/>
<rect x="136.79" y="166.27" width="3.31" height="8.8" fill="#9e0408"/>
<rect x="140.05" y="166.27" width="3.31" height="8.8" fill="#720004"/>
<rect x="143.32" y="166.27" width="3.31" height="8.8" fill="#006f00"/>
<rect x="146.58" y="166.27" width="3.31" height="8.8" fill="#004400"/>
<rect x="149.84" y="166.27" width="3.31" height="8.8" fill="#006f00"/>
<rect x="153.11" y="166.27" width="3.31" height="8.8" fill="#009300"/>
<rect x="156.37" y="166.27" width="9.84" height="8.8" fill="#08be08"/>
<rect x="166.16" y="166.27" width="3.31" height="8.8" fill="#009300"/>
<rect x="169.42" y="166.27" width="3.31" height="8.8" fill="#08be08"/>
<rect x="172.68" y="166.27" width="3.31" height="8.8" fill="#009300"/>
<rect x="175.95" y="166.27" width="3.31" height="8.8" fill="#006f00"/>
<rect x="179.21" y="166.27" width="9.84" height="8.8" fill="#009300"/>
<rect x="189" y="166.27" width="3.31" height="8.8" fill="#004400"/>
<rect x="192.26" y="166.27" width="13.1" height="8.8" fill="#006f00"/>
<rect x="205.32" y="166.27" width="6.58" height="8.8" fill="#004400"/>
<rect x="211.84" y="166.27" width="9.84" height="8.8" fill="#006f00"/>
<rect x="221.63" y="166.27" width="3.31" height="8.8" fill="#081202"/>
<rect x="224.89" y="166.27" width="3.31" height="8.8" fill="#004400"/>
<rect x="228.16" y="166.27" width="3.31" height="8.8" fill="#006f00"/>
<rect x="231.42" y="166.27" width="3.31" height="8.8" fill="#081202"/>
<rect x="234.68" y="166.27" width="3.31" height="8.8" fill="#006f00"/>
<rect x="237.95" y="166.27" width="3.31" height="8.8" fill="#009300"/>
<rect x="241.21" y="166.27" width="3.31" height="8.8" fill="#006f00"/>
<rect x="244.47" y="166.27" width="3.31" height="8.8" fill="#009300"/>
<rect x="247.74" y="166.27" width="6.58" height="8.8" fill="#006f00"/>
<rect x="254.26" y="166.27" width="3.31" height="8.8" fill="#480000"/>
<rect x="257.53" y="166.27" width="6.58" height="8.8" fill="#006f00"/>
<rect x="264.05" y="166.27" width="6.58" height="8.8" fill="#009300"/>
<rect x="270.58" y="166.27" width="9.84" height="8.8" fill="#006f00"/>
<rect x="280.37" y="166.27" width="3.31" height="8.8" fill="#720004"/>
<rect x="283.63" y="166.27" width="3.31" height="8.8" fill="#081202"/>
<rect x="286.89" y="166.27" width="6.58" height="8.8" fill="#004400"/>
<rect x="293.42" y="166.27" width="3.31" height="8.8" fill="#08be08"/>
<rect x="296.68" y="166.27" width="3.31" height="8.8" fill="#480000"/>
<rect x="299.95" y="166.27" width="6.58" height="8.8" fill="#006f00"/>
<rect x="306.47" y="166.27" width="8.58" height="8.8" fill="#081202"/>
<rect x="63" y="175.02" width="5.31" height="8.8" fill="#08be08"/>
<rect x="68.26" y="175.02" width="3.31" height="8.8" fill="#004400"/>
<rect x="71.53" y="175.02" width="3.31" height="8.8" fill="#480000"/>
<rect x="74.79" y="175.02" width="3.31" height="8.8" fill="#081202"/>
<rect x="78.05" y="175.02" width="3.31" height="8.8" fill="#004400"/>
<rect x="81.32" y="175.02" width="3.31" height="8.8" fill="#480000"/>
<rect x="84.58" y="175.02" width="3.31" height="8.8" fill="#19e619"/>
<rect x="87.84" y="175.02" width="3.31" height="8.8" fill="#081202"/>
<rect x="91.11" y="175.02" width="3.31" height="8.8" fill="#004400"/>
<rect x="94.37" y="175.02" width="3.31" height="8.8" fill="#009300"/>
<rect x="97.63" y="175.02" width="6.58" height="8.8" fill="#081202"/>
<rect x="104.16" y="175.02" width="3.31" height="8.8" fill="#009300"/>
<rect x="107.42" y="175.02" width="3.31" height="8.8" fill="#006f00"/>
<rect x="110.68" y="175.02" width="9.84" height="8.8" fill="#009300"/>
<rect x="120.47" y="175.02" width="3.31" height="8.8" fill="#004400"/>
<rect x="123.74" y="175.02" width="3.31" height="8.8" fill="#08be08"/>
<rect x="127" y="175.02" width="3.31" height="8.8" fill="#009300"/>
<rect x="130.26" y="175.02" width="3.31" height="8.8" fill="#480000"/>
<rect x="133.53" y="175.02" width="9.84" height="8.8" fill="#081202"/>
<rect x="143.32" y="175.02" width="3.31" height="8.8" fill="#19e619"/>
<rect x="146.58" y="175.02" width="9.84" height="8.8" fill="#006f00"/>
<rect x="156.37" y="175.02" width="3.31" height="8.8" fill="#004400"/>
<rect x="159.63" y="175.02" width="3.31" height="8.8" fill="#009300"/>
<rect x="162.89" y="175.02" width="6.58" height="8.8" fill="#08be08"/>
<rect x="169.42" y="175.02" width="3.31" height="8.8" fill="#006f00"/>
<rect x="172.68" y="175.02" width="3.31" height="8.8" fill="#004400"/>
<rect x="175.95" y="175.02" width="3.31" height="8.8" fill="#08be08"/>
<rect x="179.21" y="175.02" width="9.84" height="8.8" fill="#009300"/>
<rect x="189" y="175.02" width="3.31" height="8.8" fill="#006f00"/>
<rect x="192.26" y="175.02" width="6.58" height="8.8" fill="#081202"/>
<rect x="198.79" y="175.02" width="3.31" height="8.8" fill="#006f00"/>
<rect x="202.05" y="175.02" width="6.58" height="8.8" fill="#009300"/>
<rect x="208.58" y="175.02" width="3.31" height="8.8" fill="#006f00"/>
<rect x="211.84" y="175.02" width="13.1" height="8.8" fill="#081202"/>
<rect x="224.89" y="175.02" width="9.84" height="8.8" fill="#006f00"/>
<rect x="234.68" y="175.02" width="6.58" height="8.8" fill="#004400"/>
<rect x="241.21" y="175.02" width="9.84" height="8.8" fill="#006f00"/>
<rect x="251" y="175.02" width="3.31" height="8.8" fill="#08be08"/>
<rect x="254.26" y="175.02" width="6.58" height="8.8" fill="#006f00"/>
<rect x="260.79" y="175.02" width="3.31" height="8.8" fill="#081202"/>
<rect x="264.05" y="175.02" width="3.31" height="8.8" fill="#08be08"/>
<rect x="267.32" y="175.02" width="6.58" height="8.8" fill="#009300"/>
<rect x="273.84" y="175.02" width="3.31" height="8.8" fill="#004400"/>
<rect x="277.11" y="175.02" width="3.31" height="8.8" fill="#08be08"/>
<rect x="280.37" y="175.02" width="9.84" height="8.8" fill="#006f00"/>
<rect x="290.16" y="175.02" width="3.31" height="8.8" fill="#004400"/>
<rect x="293.42" y="175.02" width="9.84" height="8.8" fill="#009300"/>
<rect x="303.21" y="175.02" width="6.58" height="8.8" fill="#081202"/>
<rect x="309.74" y="175.02" width="5.31" height="8.8" fill="#006f00"/>
<rect x="63" y="183.77" width="5.31" height="8.8" fill="#08be08"/>
<rect x="68.26" y="183.77" width="13.1" height="8.8" fill="#009300"/>
<rect x="81.32" y="183.77" width="3.31" height="8.8" fill="#004400"/>
<rect x="84.58" y="183.77" width="159.94" height="8.8" fill="#009300"/>
<rect x="244.47" y="183.77" width="3.31" height="8.8" fill="#004400"/>
<rect x="247.74" y="183.77" width="6.58" height="8.8" fill="#081202"/>
<rect x="254.26" y="183.77" width="3.31" height="8.8" fill="#006f00"/>
<rect x="257.53" y="183.77" width="3.31" height="8.8" fill="#004400"/>
<rect x="260.79" y="183.77" width="3.31" height="8.8" fill="#081202"/>
<rect x="264.05" y="183.77" width="9.84" height="8.8" fill="#480000"/>
<rect x="273.84" y="183.77" width="22.89" height="8.8" fill="#720004"/>
<rect x="296.68" y="183.77" width="6.58" height="8.8" fill="#480000"/>
<rect x="303.21" y="183.77" width="6.58" height="8.8" fill="#720004"/>
<rect x="309.74" y="183.77" width="5.31" height="8.8" fill="#480000"/>
<rect x="63" y="192.52" width="5.31" height="8.8" fill="#006f00"/>
<rect x="68.26" y="192.52" width="13.1" height="8.8" fill="#009300"/>
<rect x="81.32" y="192.52" width="3.31" height="8.8" fill="#004400"/>
<rect x="84.58" y="192.52" width="117.52" height="8.8" fill="#009300"/>
<rect x="202.05" y="192.52" width="6.58" height="8.8" fill="#006f00"/>
<rect x="208.58" y="192.52" width="35.94" height="8.8" fill="#009300"/>
<rect x="244.47" y="192.52" width="3.31" height="8.8" fill="#004400"/>
<rect x="247.74" y="192.52" width="6.58" height="8.8" fill="#081202"/>
<rect x="254.26" y="192.52" width="3.31" height="8.8" fill="#006f00"/>
<rect x="257.53" y="192.52" width="3.31" height="8.8" fill="#081202"/>
<rect x="260.79" y="192.52" width="3.31" height="8.8" fill="#480000"/>
<rect x="264.05" y="192.52" width="3.31" height="8.8" fill="#720004"/>
<rect x="267.32" y="192.52" width="6.58" height="8.8" fill="#480000"/>
<rect x="273.84" y="192.52" width="9.84" height="8.8" fill="#720004"/>
<rect x="283.63" y="192.52" width="3.31" height="8.8" fill="#9e0408"/>
<rect x="286.89" y="192.52" width="9.84" height="8.8" fill="#720004"/>
<rect x="296.68" y="192.52" width="18.37" height="8.8" fill="#480000"/>
<rect x="63" y="201.28" width="5.31" height="8.8" fill="#480000"/>
<rect x="68.26" y="201.28" width="3.31" height="8.8" fill="#006f00"/>
<rect x="71.53" y="201.28" width="9.84" height="8.8" fill="#009300"/>
<rect x="81.32" y="201.28" width="3.31" height="8.8" fill="#006f00"/>
<rect x="84.58" y="201.28" width="32.68" height="8.8" fill="#009300"/>
<rect x="117.21" y="201.28" width="6.58" height="8.8" fill="#004400"/>
<rect x="123.74" y="201.28" width="3.31" height="8.8" fill="#006f00"/>
<rect x="127" y="201.28" width="35.94" height="8.8" fill="#009300"/>
<rect x="162.89" y="201.28" width="3.31" height="8.8" fill="#006f00"/>
<rect x="166.16" y="201.28" width="26.16" height="8.8" fill="#009300"/>
<rect x="192.26" y="201.28" width="3.31" height="8.8" fill="#08be08"/>
<rect x="195.53" y="201.28" width="49" height="8.8" fill="#009300"/>
<rect x="244.47" y="201.28" width="6.58" height="8.8" fill="#004400"/>
<rect x="251" y="201.28" width="9.84" height="8.8" fill="#006f00"/>
<rect x="260.79" y="201.28" width="3.31" height="8.8" fill="#004400"/>
<rect x="264.05" y="201.28" width="3.31" height="8.8" fill="#009300"/>
<rect x="267.32" y="201.28" width="3.31" height="8.8" fill="#081202"/>
<rect x="270.58" y="201.28" width="9.84" height="8.8" fill="#480000"/>
<rect x="280.37" y="201.28" width="9.84" height="8.8" fill="#720004"/>
<rect x="290.16" y="201.28" width="9.84" height="8.8" fill="#480000"/>
<rect x="299.95" y="201.28" width="9.84" height="8.8" fill="#720004"/>
<rect x="309.74" y="201.28" width="5.31" height="8.8" fill="#480000"/>
<rect x="63" y="210.03" width="5.31" height="8.8" fill="#009300"/>
<rect x="68.26" y="210.03" width="13.1" height="8.8" fill="#006f00"/>
<rect x="81.32" y="210.03" width="3.31" height="8.8" fill="#009300"/>
<rect x="84.58" y="210.03" width="6.58" height="8.8" fill="#006f00"/>
<rect x="91.11" y="210.03" width="39.21" height="8.8" fill="#009300"/>
<rect x="130.26" y="210.03" width="3.31" height="8.8" fill="#006f00"/>
<rect x="133.53" y="210.03" width="42.47" height="8.8" fill="#009300"/>
<rect x="175.95" y="210.03" width="6.58" height="8.8" fill="#006f00"/>
<rect x="182.47" y="210.03" width="6.58" height="8.8" fill="#009300"/>
<rect x="189" y="210.03" width="32.68" height="8.8" fill="#006f00"/>
<rect x="221.63" y="210.03" width="3.31" height="8.8" fill="#009300"/>
<rect x="224.89" y="210.03" width="19.63" height="8.8" fill="#006f00"/>
<rect x="244.47" y="210.03" width="6.58" height="8.8" fill="#081202"/>
<rect x="251" y="210.03" width="9.84" height="8.8" fill="#006f00"/>
<rect x="260.79" y="210.03" width="3.31" height="8.8" fill="#081202"/>
<rect x="264.05" y="210.03" width="3.31" height="8.8" fill="#009300"/>
<rect x="267.32" y="210.03" width="3.31" height="8.8" fill="#006f00"/>
<rect x="270.58" y="210.03" width="3.31" height="8.8" fill="#480000"/>
<rect x="273.84" y="210.03" width="9.84" height="8.8" fill="#720004"/>
<rect x="283.63" y="210.03" width="6.58" height="8.8" fill="#480000"/>
<rect x="290.16" y="210.03" width="3.31" height="8.8" fill="#081202"/>
<rect x="293.42" y="210.03" width="3.31" height="8.8" fill="#004400"/>
<rect x="296.68" y="210.03" width="3.31" height="8.8" fill="#480000"/>
<rect x="299.95" y="210.03" width="9.84" height="8.8" fill="#9e0408"/>
<rect x="309.74" y="210.03" width="5.31" height="8.8" fill="#480000"/>
<rect x="63" y="218.78" width="8.58" height="8.8" fill="#006f00"/>
<rect x="71.53" y="218.78" width="9.84" height="8.8" fill="#009300"/>
<rect x="81.32" y="218.78" width="3.31" height="8.8" fill="#004400"/>
<rect x="84.58" y="218.78" width="9.84" height="8.8" fill="#006f00"/>
<rect x="94.37" y="218.78" width="13.1" height="8.8" fill="#009300"/>
<rect x="107.42" y="218.78" width="9.84" height="8.8" fill="#004400"/>
<rect x="117.21" y="218.78" width="3.31" height="8.8" fill="#006f00"/>
<rect x="120.47" y="218.78" width="3.31" height="8.8" fill="#08be08"/>
<rect x="123.74" y="218.78" width="9.84" height="8.8" fill="#009300"/>
<rect x="133.53" y="218.78" width="9.84" height="8.8" fill="#006f00"/>
<rect x="143.32" y="218.78" width="13.1" height="8.8" fill="#009300"/>
<rect x="156.37" y="218.78" width="6.58" height="8.8" fill="#006f00"/>
<rect x="162.89" y="218.78" width="32.68" height="8.8" fill="#009300"/>
<rect x="195.53" y="218.78" width="3.31" height="8.8" fill="#08be08"/>
<rect x="198.79" y="218.78" width="16.37" height="8.8" fill="#009300"/>
<rect x="215.11" y="218.78" width="3.31" height="8.8" fill="#08be08"/>
<rect x="218.37" y="218.78" width="26.16" height="8.8" fill="#009300"/>
<rect x="244.47" y="218.78" width="6.58" height="8.8" fill="#081202"/>
<rect x="251" y="218.78" width="3.31" height="8.8" fill="#006f00"/>
<rect x="254.26" y="218.78" width="9.84" height="8.8" fill="#004400"/>
<rect x="264.05" y="218.78" width="13.1" height="8.8" fill="#081202"/>
<rect x="277.11" y="218.78" width="6.58" height="8.8" fill="#480000"/>
<rect x="283.63" y="218.78" width="3.31" height="8.8" fill="#720004"/>
<rect x="286.89" y="218.78" width="3.31" height="8.8" fill="#9e0408"/>
<rect x="290.16" y="218.78" width="9.84" height="8.8" fill="#720004"/>
<rect x="299.95" y="218.78" width="15.1" height="8.8" fill="#480000"/>
<rect x="63" y="227.53" width="5.31" height="8.8" fill="#006f00"/>
<rect x="68.26" y="227.53" width="3.31" height="8.8" fill="#009300"/>
<rect x="71.53" y="227.53" width="9.84" height="8.8" fill="#08be08"/>
<rect x="81.32" y="227.53" width="26.16" height="8.8" fill="#009300"/>
<rect x="107.42" y="227.53" width="9.84" height="8.8" fill="#006f00"/>
<rect x="117.21" y="227.53" width="22.89" height="8.8" fill="#009300"/>
<rect x="140.05" y="227.53" width="3.31" height="8.8" fill="#006f00"/>
<rect x="143.32" y="227.53" width="45.73" height="8.8" fill="#009300"/>
<rect x="189" y="227.53" width="6.58" height="8.8" fill="#006f00"/>
<rect x="195.53" y="227.53" width="19.63" height="8.8" fill="#009300"/>
<rect x="215.11" y="227.53" width="6.58" height="8.8" fill="#006f00"/>
<rect x="221.63" y="227.53" width="22.89" height="8.8" fill="#009300"/>
<rect x="244.47" y="227.53" width="6.58" height="8.8" fill="#081202"/>
<rect x="251" y="227.53" width="3.31" height="8.8" fill="#009300"/>
<rect x="254.26" y="227.53" width="3.31" height="8.8" fill="#081202"/>
<rect x="257.53" y="227.53" width="3.31" height="8.8" fill="#004400"/>
<rect x="260.79" y="227.53" width="6.58" height="8.8" fill="#081202"/>
<rect x="267.32" y="227.53" width="3.31" height="8.8" fill="#480000"/>
<rect x="270.58" y="227.53" width="3.31" height="8.8" fill="#720004"/>
<rect x="273.84" y="227.53" width="3.31" height="8.8" fill="#480000"/>
<rect x="277.11" y="227.53" width="3.31" height="8.8" fill="#720004"/>
<rect x="280.37" y="227.53" width="3.31" height="8.8" fill="#9e0408"/>
<rect x="283.63" y="227.53" width="3.31" height="8.8" fill="#720004"/>
<rect x="286.89" y="227.53" width="3.31" height="8.8" fill="#081202"/>
<rect x="290.16" y="227.53" width="3.31" height="8.8" fill="#9e0408"/>
<rect x="293.42" y="227.53" width="3.31" height="8.8" fill="#480000"/>
<rect x="296.68" y="227.53" width="3.31" height="8.8" fill="#081202"/>
<rect x="299.95" y="227.53" width="15.1" height="8.8" fill="#480000"/>
<rect x="63" y="236.28" width="5.31" height="8.8" fill="#009300"/>
<rect x="68.26" y="236.28" width="3.31" height="8.8" fill="#004400"/>
<rect x="71.53" y="236.28" width="9.84" height="8.8" fill="#006f00"/>
<rect x="81.32" y="236.28" width="3.31" height="8.8" fill="#004400"/>
<rect x="84.58" y="236.28" width="26.16" height="8.8" fill="#006f00"/>
<rect x="110.68" y="236.28" width="3.31" height="8.8" fill="#004400"/>
<rect x="113.95" y="236.28" width="3.31" height="8.8" fill="#006f00"/>
<rect x="117.21" y="236.28" width="29.42" height="8.8" fill="#009300"/>
<rect x="146.58" y="236.28" width="9.84" height="8.8" fill="#006f00"/>
<rect x="156.37" y="236.28" width="88.16" height="8.8" fill="#009300"/>
<rect x="244.47" y="236.28" width="6.58" height="8.8" fill="#081202"/>
<rect x="251" y="236.28" width="3.31" height="8.8" fill="#009300"/>
<rect x="254.26" y="236.28" width="6.58" height="8.8" fill="#006f00"/>
<rect x="260.79" y="236.28" width="3.31" height="8.8" fill="#081202"/>
<rect x="264.05" y="236.28" width="3.31" height="8.8" fill="#009300"/>
<rect x="267.32" y="236.28" width="3.31" height="8.8" fill="#720004"/>
<rect x="270.58" y="236.28" width="3.31" height="8.8" fill="#004400"/>
<rect x="273.84" y="236.28" width="3.31" height="8.8" fill="#081202"/>
<rect x="277.11" y="236.28" width="3.31" height="8.8" fill="#480000"/>
<rect x="280.37" y="236.28" width="3.31" height="8.8" fill="#081202"/>
<rect x="283.63" y="236.28" width="3.31" height="8.8" fill="#480000"/>
<rect x="286.89" y="236.28" width="9.84" height="8.8" fill="#720004"/>
<rect x="296.68" y="236.28" width="9.84" height="8.8" fill="#480000"/>
<rect x="306.47" y="236.28" width="8.58" height="8.8" fill="#720004"/>
<rect x="63" y="245.03" width="5.31" height="8.8" fill="#009300"/>
<rect x="68.26" y="245.03" width="3.31" height="8.8" fill="#004400"/>
<rect x="71.53" y="245.03" width="32.68" height="8.8" fill="#006f00"/>
<rect x="104.16" y="245.03" width="140.37" height="8.8" fill="#009300"/>
<rect x="244.47" y="245.03" width="22.89" height="8.8" fill="#081202"/>
<rect x="267.32" y="245.03" width="3.31" height="8.8" fill="#480000"/>
<rect x="270.58" y="245.03" width="6.58" height="8.8" fill="#081202"/>
<rect x="277.11" y="245.03" width="9.84" height="8.8" fill="#480000"/>
<rect x="286.89" y="245.03" width="6.58" height="8.8" fill="#720004"/>
<rect x="293.42" y="245.03" width="21.63" height="8.8" fill="#480000"/>
<rect x="63" y="253.79" width="8.58" height="8.8" fill="#009300"/>
<rect x="71.53" y="253.79" width="9.84" height="8.8" fill="#08be08"/>
<rect x="81.32" y="253.79" width="3.31" height="8.8" fill="#006f00"/>
<rect x="84.58" y="253.79" width="3.31" height="8.8" fill="#081202"/>
<rect x="87.84" y="253.79" width="3.31" height="8.8" fill="#006f00"/>
<rect x="91.11" y="253.79" width="9.84" height="8.8" fill="#004400"/>
<rect x="100.89" y="253.79" width="3.31" height="8.8" fill="#006f00"/>
<rect x="104.16" y="253.79" width="3.31" height="8.8" fill="#08be08"/>
<rect x="107.42" y="253.79" width="3.31" height="8.8" fill="#009300"/>
<rect x="110.68" y="253.79" width="3.31" height="8.8" fill="#08be08"/>
<rect x="113.95" y="253.79" width="6.58" height="8.8" fill="#009300"/>
<rect x="120.47" y="253.79" width="3.31" height="8.8" fill="#08be08"/>
<rect x="123.74" y="253.79" width="6.58" height="8.8" fill="#006f00"/>
<rect x="130.26" y="253.79" width="9.84" height="8.8" fill="#009300"/>
<rect x="140.05" y="253.79" width="3.31" height="8.8" fill="#006f00"/>
<rect x="143.32" y="253.79" width="3.31" height="8.8" fill="#081202"/>
<rect x="146.58" y="253.79" width="3.31" height="8.8" fill="#006f00"/>
<rect x="149.84" y="253.79" width="6.58" height="8.8" fill="#009300"/>
<rect x="156.37" y="253.79" width="3.31" height="8.8" fill="#08be08"/>
<rect x="159.63" y="253.79" width="3.31" height="8.8" fill="#009300"/>
<rect x="162.89" y="253.79" width="3.31" height="8.8" fill="#081202"/>
<rect x="166.16" y="253.79" width="3.31" height="8.8" fill="#004400"/>
<rect x="169.42" y="253.79" width="3.31" height="8.8" fill="#006f00"/>
<rect x="172.68" y="253.79" width="6.58" height="8.8" fill="#004400"/>
<rect x="179.21" y="253.79" width="3.31" height="8.8" fill="#006f00"/>
<rect x="182.47" y="253.79" width="3.31" height="8.8" fill="#004400"/>
<rect x="185.74" y="253.79" width="3.31" height="8.8" fill="#009300"/>
<rect x="189" y="253.79" width="3.31" height="8.8" fill="#006f00"/>
<rect x="192.26" y="253.79" width="9.84" height="8.8" fill="#004400"/>
<rect x="202.05" y="253.79" width="3.31" height="8.8" fill="#006f00"/>
<rect x="205.32" y="253.79" width="13.1" height="8.8" fill="#009300"/>
<rect x="218.37" y="253.79" width="3.31" height="8.8" fill="#08be08"/>
<rect x="221.63" y="253.79" width="22.89" height="8.8" fill="#009300"/>
<rect x="244.47" y="253.79" width="3.31" height="8.8" fill="#006f00"/>
<rect x="247.74" y="253.79" width="3.31" height="8.8" fill="#004400"/>
<rect x="251" y="253.79" width="3.31" height="8.8" fill="#08be08"/>
<rect x="254.26" y="253.79" width="3.31" height="8.8" fill="#004400"/>
<rect x="257.53" y="253.79" width="3.31" height="8.8" fill="#006f00"/>
<rect x="260.79" y="253.79" width="3.31" height="8.8" fill="#08be08"/>
<rect x="264.05" y="253.79" width="3.31" height="8.8" fill="#004400"/>
<rect x="267.32" y="253.79" width="3.31" height="8.8" fill="#081202"/>
<rect x="270.58" y="253.79" width="3.31" height="8.8" fill="#08be08"/>
<rect x="273.84" y="253.79" width="3.31" height="8.8" fill="#004400"/>
<rect x="277.11" y="253.79" width="3.31" height="8.8" fill="#081202"/>
<rect x="280.37" y="253.79" width="6.58" height="8.8" fill="#480000"/>
<rect x="286.89" y="253.79" width="3.31" height="8.8" fill="#da1a1a"/>
<rect x="290.16" y="253.79" width="3.31" height="8.8" fill="#9e0408"/>
<rect x="293.42" y="253.79" width="3.31" height="8.8" fill="#480000"/>
<rect x="296.68" y="253.79" width="3.31" height="8.8" fill="#081202"/>
<rect x="299.95" y="253.79" width="3.31" height="8.8" fill="#006f00"/>
<rect x="303.21" y="253.79" width="3.31" height="8.8" fill="#081202"/>
<rect x="306.47" y="253.79" width="8.58" height="8.8" fill="#480000"/>
<rect x="63" y="262.54" width="5.31" height="8.8" fill="#006f00"/>
<rect x="68.26" y="262.54" width="13.1" height="8.8" fill="#009300"/>
<rect x="81.32" y="262.54" width="3.31" height="8.8" fill="#004400"/>
<rect x="84.58" y="262.54" width="3.31" height="8.8" fill="#081202"/>
<rect x="87.84" y="262.54" width="6.58" height="8.8" fill="#009300"/>
<rect x="94.37" y="262.54" width="9.84" height="8.8" fill="#006f00"/>
<rect x="104.16" y="262.54" width="3.31" height="8.8" fill="#009300"/>
<rect x="107.42" y="262.54" width="3.31" height="8.8" fill="#08be08"/>
<rect x="110.68" y="262.54" width="19.63" height="8.8" fill="#009300"/>
<rect x="130.26" y="262.54" width="16.37" height="8.8" fill="#006f00"/>
<rect x="146.58" y="262.54" width="3.31" height="8.8" fill="#004400"/>
<rect x="149.84" y="262.54" width="3.31" height="8.8" fill="#009300"/>
<rect x="153.11" y="262.54" width="3.31" height="8.8" fill="#006f00"/>
<rect x="156.37" y="262.54" width="9.84" height="8.8" fill="#009300"/>
<rect x="166.16" y="262.54" width="3.31" height="8.8" fill="#006f00"/>
<rect x="169.42" y="262.54" width="13.1" height="8.8" fill="#009300"/>
<rect x="182.47" y="262.54" width="3.31" height="8.8" fill="#004400"/>
<rect x="185.74" y="262.54" width="9.84" height="8.8" fill="#009300"/>
<rect x="195.53" y="262.54" width="3.31" height="8.8" fill="#006f00"/>
<rect x="198.79" y="262.54" width="13.1" height="8.8" fill="#009300"/>
<rect x="211.84" y="262.54" width="3.31" height="8.8" fill="#006f00"/>
<rect x="215.11" y="262.54" width="29.42" height="8.8" fill="#009300"/>
<rect x="244.47" y="262.54" width="3.31" height="8.8" fill="#006f00"/>
<rect x="247.74" y="262.54" width="6.58" height="8.8" fill="#009300"/>
<rect x="254.26" y="262.54" width="3.31" height="8.8" fill="#004400"/>
<rect x="257.53" y="262.54" width="3.31" height="8.8" fill="#006f00"/>
<rect x="260.79" y="262.54" width="3.31" height="8.8" fill="#009300"/>
<rect x="264.05" y="262.54" width="3.31" height="8.8" fill="#004400"/>
<rect x="267.32" y="262.54" width="3.31" height="8.8" fill="#081202"/>
<rect x="270.58" y="262.54" width="3.31" height="8.8" fill="#004400"/>
<rect x="273.84" y="262.54" width="3.31" height="8.8" fill="#081202"/>
<rect x="277.11" y="262.54" width="6.58" height="8.8" fill="#480000"/>
<rect x="283.63" y="262.54" width="3.31" height="8.8" fill="#9e0408"/>
<rect x="286.89" y="262.54" width="3.31" height="8.8" fill="#da1a1a"/>
<rect x="290.16" y="262.54" width="3.31" height="8.8" fill="#9e0408"/>
<rect x="293.42" y="262.54" width="3.31" height="8.8" fill="#480000"/>
<rect x="296.68" y="262.54" width="3.31" height="8.8" fill="#720004"/>
<rect x="299.95" y="262.54" width="3.31" height="8.8" fill="#081202"/>
<rect x="303.21" y="262.54" width="6.58" height="8.8" fill="#720004"/>
<rect x="309.74" y="262.54" width="5.31" height="8.8" fill="#480000"/>
<rect x="63" y="271.29" width="5.31" height="8.8" fill="#004400"/>
<rect x="68.26" y="271.29" width="6.58" height="8.8" fill="#009300"/>
<rect x="74.79" y="271.29" width="3.31" height="8.8" fill="#006f00"/>
<rect x="78.05" y="271.29" width="3.31" height="8.8" fill="#009300"/>
<rect x="81.32" y="271.29" width="3.31" height="8.8" fill="#004400"/>
<rect x="84.58" y="271.29" width="3.31" height="8.8" fill="#da1a1a"/>
<rect x="87.84" y="271.29" width="3.31" height="8.8" fill="#009300"/>
<rect x="91.11" y="271.29" width="3.31" height="8.8" fill="#004400"/>
<rect x="94.37" y="271.29" width="9.84" height="8.8" fill="#006f00"/>
<rect x="104.16" y="271.29" width="3.31" height="8.8" fill="#004400"/>
<rect x="107.42" y="271.29" width="3.31" height="8.8" fill="#19e619"/>
<rect x="110.68" y="271.29" width="3.31" height="8.8" fill="#009300"/>
<rect x="113.95" y="271.29" width="6.58" height="8.8" fill="#006f00"/>
<rect x="120.47" y="271.29" width="3.31" height="8.8" fill="#004400"/>
<rect x="123.74" y="271.29" width="6.58" height="8.8" fill="#009300"/>
<rect x="130.26" y="271.29" width="9.84" height="8.8" fill="#08be08"/>
<rect x="140.05" y="271.29" width="6.58" height="8.8" fill="#009300"/>
<rect x="146.58" y="271.29" width="3.31" height="8.8" fill="#081202"/>
<rect x="149.84" y="271.29" width="6.58" height="8.8" fill="#006f00"/>
<rect x="156.37" y="271.29" width="6.58" height="8.8" fill="#08be08"/>
<rect x="162.89" y="271.29" width="3.31" height="8.8" fill="#009300"/>
<rect x="166.16" y="271.29" width="6.58" height="8.8" fill="#006f00"/>
<rect x="172.68" y="271.29" width="3.31" height="8.8" fill="#081202"/>
<rect x="175.95" y="271.29" width="3.31" height="8.8" fill="#004400"/>
<rect x="179.21" y="271.29" width="3.31" height="8.8" fill="#006f00"/>
<rect x="182.47" y="271.29" width="3.31" height="8.8" fill="#004400"/>
<rect x="185.74" y="271.29" width="3.31" height="8.8" fill="#006f00"/>
<rect x="189" y="271.29" width="6.58" height="8.8" fill="#004400"/>
<rect x="195.53" y="271.29" width="3.31" height="8.8" fill="#081202"/>
<rect x="198.79" y="271.29" width="3.31" height="8.8" fill="#009300"/>
<rect x="202.05" y="271.29" width="3.31" height="8.8" fill="#006f00"/>
<rect x="205.32" y="271.29" width="6.58" height="8.8" fill="#08be08"/>
<rect x="211.84" y="271.29" width="3.31" height="8.8" fill="#006f00"/>
<rect x="215.11" y="271.29" width="9.84" height="8.8" fill="#009300"/>
<rect x="224.89" y="271.29" width="13.1" height="8.8" fill="#006f00"/>
<rect x="237.95" y="271.29" width="6.58" height="8.8" fill="#009300"/>
<rect x="244.47" y="271.29" width="3.31" height="8.8" fill="#480000"/>
<rect x="247.74" y="271.29" width="3.31" height="8.8" fill="#004400"/>
<rect x="251" y="271.29" width="6.58" height="8.8" fill="#009300"/>
<rect x="257.53" y="271.29" width="3.31" height="8.8" fill="#006f00"/>
<rect x="260.79" y="271.29" width="3.31" height="8.8" fill="#08be08"/>
<rect x="264.05" y="271.29" width="3.31" height="8.8" fill="#006f00"/>
<rect x="267.32" y="271.29" width="3.31" height="8.8" fill="#004400"/>
<rect x="270.58" y="271.29" width="3.31" height="8.8" fill="#081202"/>
<rect x="273.84" y="271.29" width="3.31" height="8.8" fill="#9e0408"/>
<rect x="277.11" y="271.29" width="3.31" height="8.8" fill="#081202"/>
<rect x="280.37" y="271.29" width="9.84" height="8.8" fill="#004400"/>
<rect x="290.16" y="271.29" width="3.31" height="8.8" fill="#720004"/>
<rect x="293.42" y="271.29" width="3.31" height="8.8" fill="#081202"/>
<rect x="296.68" y="271.29" width="3.31" height="8.8" fill="#006f00"/>
<rect x="299.95" y="271.29" width="15.1" height="8.8" fill="#004400"/>
<rect x="63" y="280.04" width="5.31" height="8.8" fill="#004400"/>
<rect x="68.26" y="280.04" width="3.31" height="8.8" fill="#006f00"/>
<rect x="71.53" y="280.04" width="9.84" height="8.8" fill="#009300"/>
<rect x="81.32" y="280.04" width="3.31" height="8.8" fill="#006f00"/>
<rect x="84.58" y="280.04" width="3.31" height="8.8" fill="#081202"/>
<rect x="87.84" y="280.04" width="3.31" height="8.8" fill="#006f00"/>
<rect x="91.11" y="280.04" width="9.84" height="8.8" fill="#009300"/>
<rect x="100.89" y="280.04" width="3.31" height="8.8" fill="#006f00"/>
<rect x="104.16" y="280.04" width="3.31" height="8.8" fill="#004400"/>
<rect x="107.42" y="280.04" width="3.31" height="8.8" fill="#006f00"/>
<rect x="110.68" y="280.04" width="9.84" height="8.8" fill="#004400"/>
<rect x="120.47" y="280.04" width="3.31" height="8.8" fill="#08be08"/>
<rect x="123.74" y="280.04" width="3.31" height="8.8" fill="#004400"/>
<rect x="127" y="280.04" width="3.31" height="8.8" fill="#081202"/>
<rect x="130.26" y="280.04" width="3.31" height="8.8" fill="#009300"/>
<rect x="133.53" y="280.04" width="3.31" height="8.8" fill="#004400"/>
<rect x="136.79" y="280.04" width="3.31" height="8.8" fill="#006f00"/>
<rect x="140.05" y="280.04" width="3.31" height="8.8" fill="#009300"/>
<rect x="143.32" y="280.04" width="3.31" height="8.8" fill="#006f00"/>
<rect x="146.58" y="280.04" width="3.31" height="8.8" fill="#08be08"/>
<rect x="149.84" y="280.04" width="13.1" height="8.8" fill="#009300"/>
<rect x="162.89" y="280.04" width="3.31" height="8.8" fill="#006f00"/>
<rect x="166.16" y="280.04" width="3.31" height="8.8" fill="#081202"/>
<rect x="169.42" y="280.04" width="3.31" height="8.8" fill="#006f00"/>
<rect x="172.68" y="280.04" width="35.94" height="8.8" fill="#08be08"/>
<rect x="208.58" y="280.04" width="3.31" height="8.8" fill="#009300"/>
<rect x="211.84" y="280.04" width="3.31" height="8.8" fill="#006f00"/>
<rect x="215.11" y="280.04" width="3.31" height="8.8" fill="#009300"/>
<rect x="218.37" y="280.04" width="3.31" height="8.8" fill="#08be08"/>
<rect x="221.63" y="280.04" width="6.58" height="8.8" fill="#009300"/>
<rect x="228.16" y="280.04" width="3.31" height="8.8" fill="#006f00"/>
<rect x="231.42" y="280.04" width="6.58" height="8.8" fill="#08be08"/>
<rect x="237.95" y="280.04" width="6.58" height="8.8" fill="#009300"/>
<rect x="244.47" y="280.04" width="3.31" height="8.8" fill="#081202"/>
<rect x="247.74" y="280.04" width="3.31" height="8.8" fill="#004400"/>
<rect x="251" y="280.04" width="6.58" height="8.8" fill="#006f00"/>
<rect x="257.53" y="280.04" width="3.31" height="8.8" fill="#004400"/>
<rect x="260.79" y="280.04" width="3.31" height="8.8" fill="#081202"/>
<rect x="264.05" y="280.04" width="3.31" height="8.8" fill="#006f00"/>
<rect x="267.32" y="280.04" width="3.31" height="8.8" fill="#004400"/>
<rect x="270.58" y="280.04" width="3.31" height="8.8" fill="#081202"/>
<rect x="273.84" y="280.04" width="3.31" height="8.8" fill="#480000"/>
<rect x="277.11" y="280.04" width="3.31" height="8.8" fill="#004400"/>
<rect x="280.37" y="280.04" width="3.31" height="8.8" fill="#480000"/>
<rect x="283.63" y="280.04" width="3.31" height="8.8" fill="#9e0408"/>
<rect x="286.89" y="280.04" width="3.31" height="8.8" fill="#720004"/>
<rect x="290.16" y="280.04" width="6.58" height="8.8" fill="#480000"/>
<rect x="296.68" y="280.04" width="3.31" height="8.8" fill="#006f00"/>
<rect x="299.95" y="280.04" width="3.31" height="8.8" fill="#720004"/>
<rect x="303.21" y="280.04" width="6.58" height="8.8" fill="#004400"/>
<rect x="309.74" y="280.04" width="5.31" height="8.8" fill="#480000"/>
<rect x="63" y="288.79" width="15.1" height="8.8" fill="#009300"/>
<rect x="78.05" y="288.79" width="6.58" height="8.8" fill="#006f00"/>
<rect x="84.58" y="288.79" width="13.1" height="8.8" fill="#9e0408"/>
<rect x="97.63" y="288.79" width="6.58" height="8.8" fill="#720004"/>
<rect x="104.16" y="288.79" width="3.31" height="8.8" fill="#006f00"/>
<rect x="107.42" y="288.79" width="6.58" height="8.8" fill="#009300"/>
<rect x="113.95" y="288.79" width="9.84" height="8.8" fill="#006f00"/>
<rect x="123.74" y="288.79" width="3.31" height="8.8" fill="#009300"/>
<rect x="127" y="288.79" width="3.31" height="8.8" fill="#004400"/>
<rect x="130.26" y="288.79" width="3.31" height="8.8" fill="#009300"/>
<rect x="133.53" y="288.79" width="3.31" height="8.8" fill="#08be08"/>
<rect x="136.79" y="288.79" width="3.31" height="8.8" fill="#009300"/>
<rect x="140.05" y="288.79" width="3.31" height="8.8" fill="#006f00"/>
<rect x="143.32" y="288.79" width="3.31" height="8.8" fill="#081202"/>
<rect x="146.58" y="288.79" width="3.31" height="8.8" fill="#720004"/>
<rect x="149.84" y="288.79" width="3.31" height="8.8" fill="#08be08"/>
<rect x="153.11" y="288.79" width="3.31" height="8.8" fill="#004400"/>
<rect x="156.37" y="288.79" width="3.31" height="8.8" fill="#009300"/>
<rect x="159.63" y="288.79" width="3.31" height="8.8" fill="#006f00"/>
<rect x="162.89" y="288.79" width="6.58" height="8.8" fill="#009300"/>
<rect x="169.42" y="288.79" width="6.58" height="8.8" fill="#006f00"/>
<rect x="175.95" y="288.79" width="6.58" height="8.8" fill="#081202"/>
<rect x="182.47" y="288.79" width="3.31" height="8.8" fill="#004400"/>
<rect x="185.74" y="288.79" width="3.31" height="8.8" fill="#006f00"/>
<rect x="189" y="288.79" width="6.58" height="8.8" fill="#004400"/>
<rect x="195.53" y="288.79" width="3.31" height="8.8" fill="#081202"/>
<rect x="198.79" y="288.79" width="3.31" height="8.8" fill="#004400"/>
<rect x="202.05" y="288.79" width="13.1" height="8.8" fill="#006f00"/>
<rect x="215.11" y="288.79" width="3.31" height="8.8" fill="#081202"/>
<rect x="218.37" y="288.79" width="3.31" height="8.8" fill="#004400"/>
<rect x="221.63" y="288.79" width="3.31" height="8.8" fill="#006f00"/>
<rect x="224.89" y="288.79" width="3.31" height="8.8" fill="#004400"/>
<rect x="228.16" y="288.79" width="3.31" height="8.8" fill="#006f00"/>
<rect x="231.42" y="288.79" width="3.31" height="8.8" fill="#004400"/>
<rect x="234.68" y="288.79" width="16.37" height="8.8" fill="#006f00"/>
<rect x="251" y="288.79" width="3.31" height="8.8" fill="#009300"/>
<rect x="254.26" y="288.79" width="3.31" height="8.8" fill="#006f00"/>
<rect x="257.53" y="288.79" width="3.31" height="8.8" fill="#009300"/>
<rect x="260.79" y="288.79" width="3.31" height="8.8" fill="#08be08"/>
<rect x="264.05" y="288.79" width="3.31" height="8.8" fill="#009300"/>
<rect x="267.32" y="288.79" width="3.31" height="8.8" fill="#08be08"/>
<rect x="270.58" y="288.79" width="9.84" height="8.8" fill="#009300"/>
<rect x="280.37" y="288.79" width="3.31" height="8.8" fill="#006f00"/>
<rect x="283.63" y="288.79" width="3.31" height="8.8" fill="#08be08"/>
<rect x="286.89" y="288.79" width="3.31" height="8.8" fill="#009300"/>
<rect x="290.16" y="288.79" width="6.58" height="8.8" fill="#08be08"/>
<rect x="296.68" y="288.79" width="3.31" height="8.8" fill="#009300"/>
<rect x="299.95" y="288.79" width="6.58" height="8.8" fill="#08be08"/>
<rect x="306.47" y="288.79" width="8.58" height="8.8" fill="#009300"/>
<rect x="63" y="297.54" width="8.58" height="8.8" fill="#009300"/>
<rect x="71.53" y="297.54" width="3.31" height="8.8" fill="#006f00"/>
<rect x="74.79" y="297.54" width="3.31" height="8.8" fill="#081202"/>
<rect x="78.05" y="297.54" width="3.31" height="8.8" fill="#004400"/>
<rect x="81.32" y="297.54" width="3.31" height="8.8" fill="#081202"/>
<rect x="84.58" y="297.54" width="3.31" height="8.8" fill="#da1a1a"/>
<rect x="87.84" y="297.54" width="3.31" height="8.8" fill="#480000"/>
<rect x="91.11" y="297.54" width="6.58" height="8.8" fill="#720004"/>
<rect x="97.63" y="297.54" width="6.58" height="8.8" fill="#480000"/>
<rect x="104.16" y="297.54" width="3.31" height="8.8" fill="#004400"/>
<rect x="107.42" y="297.54" width="3.31" height="8.8" fill="#009300"/>
<rect x="110.68" y="297.54" width="3.31" height="8.8" fill="#006f00"/>
<rect x="113.95" y="297.54" width="13.1" height="8.8" fill="#009300"/>
<rect x="127" y="297.54" width="3.31" height="8.8" fill="#006f00"/>
<rect x="130.26" y="297.54" width="13.1" height="8.8" fill="#009300"/>
<rect x="143.32" y="297.54" width="3.31" height="8.8" fill="#081202"/>
<rect x="146.58" y="297.54" width="3.31" height="8.8" fill="#480000"/>
<rect x="149.84" y="297.54" width="3.31" height="8.8" fill="#081202"/>
<rect x="153.11" y="297.54" width="3.31" height="8.8" fill="#006f00"/>
<rect x="156.37" y="297.54" width="3.31" height="8.8" fill="#009300"/>
<rect x="159.63" y="297.54" width="3.31" height="8.8" fill="#006f00"/>
<rect x="162.89" y="297.54" width="3.31" height="8.8" fill="#08be08"/>
<rect x="166.16" y="297.54" width="3.31" height="8.8" fill="#009300"/>
<rect x="169.42" y="297.54" width="3.31" height="8.8" fill="#006f00"/>
<rect x="172.68" y="297.54" width="3.31" height="8.8" fill="#009300"/>
<rect x="175.95" y="297.54" width="3.31" height="8.8" fill="#480000"/>
<rect x="179.21" y="297.54" width="3.31" height="8.8" fill="#081202"/>
<rect x="182.47" y="297.54" width="3.31" height="8.8" fill="#004400"/>
<rect x="185.74" y="297.54" width="3.31" height="8.8" fill="#009300"/>
<rect x="189" y="297.54" width="6.58" height="8.8" fill="#006f00"/>
<rect x="195.53" y="297.54" width="6.58" height="8.8" fill="#004400"/>
<rect x="202.05" y="297.54" width="3.31" height="8.8" fill="#006f00"/>
<rect x="205.32" y="297.54" width="3.31" height="8.8" fill="#009300"/>
<rect x="208.58" y="297.54" width="3.31" height="8.8" fill="#006f00"/>
<rect x="211.84" y="297.54" width="3.31" height="8.8" fill="#081202"/>
<rect x="215.11" y="297.54" width="3.31" height="8.8" fill="#006f00"/>
<rect x="218.37" y="297.54" width="3.31" height="8.8" fill="#009300"/>
<rect x="221.63" y="297.54" width="6.58" height="8.8" fill="#006f00"/>
<rect x="228.16" y="297.54" width="3.31" height="8.8" fill="#009300"/>
<rect x="231.42" y="297.54" width="13.1" height="8.8" fill="#006f00"/>
<rect x="244.47" y="297.54" width="3.31" height="8.8" fill="#009300"/>
<rect x="247.74" y="297.54" width="3.31" height="8.8" fill="#006f00"/>
<rect x="251" y="297.54" width="3.31" height="8.8" fill="#009300"/>
<rect x="254.26" y="297.54" width="6.58" height="8.8" fill="#006f00"/>
<rect x="260.79" y="297.54" width="3.31" height="8.8" fill="#08be08"/>
<rect x="264.05" y="297.54" width="3.31" height="8.8" fill="#006f00"/>
<rect x="267.32" y="297.54" width="3.31" height="8.8" fill="#08be08"/>
<rect x="270.58" y="297.54" width="3.31" height="8.8" fill="#009300"/>
<rect x="273.84" y="297.54" width="3.31" height="8.8" fill="#08be08"/>
<rect x="277.11" y="297.54" width="3.31" height="8.8" fill="#006f00"/>
<rect x="280.37" y="297.54" width="3.31" height="8.8" fill="#004400"/>
<rect x="283.63" y="297.54" width="3.31" height="8.8" fill="#08be08"/>
<rect x="286.89" y="297.54" width="3.31" height="8.8" fill="#009300"/>
<rect x="290.16" y="297.54" width="6.58" height="8.8" fill="#08be08"/>
<rect x="296.68" y="297.54" width="3.31" height="8.8" fill="#004400"/>
<rect x="299.95" y="297.54" width="3.31" height="8.8" fill="#009300"/>
<rect x="303.21" y="297.54" width="3.31" height="8.8" fill="#006f00"/>
<rect x="306.47" y="297.54" width="8.58" height="8.8" fill="#009300"/>
<rect x="63" y="306.3" width="5.31" height="8.8" fill="#08be08"/>
<rect x="68.26" y="306.3" width="3.31" height="8.8" fill="#009300"/>
<rect x="71.53" y="306.3" width="3.31" height="8.8" fill="#004400"/>
<rect x="74.79" y="306.3" width="3.31" height="8.8" fill="#009300"/>
<rect x="78.05" y="306.3" width="6.58" height="8.8" fill="#081202"/>
<rect x="84.58" y="306.3" width="3.31" height="8.8" fill="#009300"/>
<rect x="87.84" y="306.3" width="6.58" height="8.8" fill="#480000"/>
<rect x="94.37" y="306.3" width="3.31" height="8.8" fill="#720004"/>
<rect x="97.63" y="306.3" width="3.31" height="8.8" fill="#081202"/>
<rect x="100.89" y="306.3" width="3.31" height="8.8" fill="#9e0408"/>
<rect x="104.16" y="306.3" width="3.31" height="8.8" fill="#006f00"/>
<rect x="107.42" y="306.3" width="3.31" height="8.8" fill="#009300"/>
<rect x="110.68" y="306.3" width="3.31" height="8.8" fill="#004400"/>
<rect x="113.95" y="306.3" width="6.58" height="8.8" fill="#009300"/>
<rect x="120.47" y="306.3" width="3.31" height="8.8" fill="#081202"/>
<rect x="123.74" y="306.3" width="3.31" height="8.8" fill="#006f00"/>
<rect x="127" y="306.3" width="3.31" height="8.8" fill="#009300"/>
<rect x="130.26" y="306.3" width="3.31" height="8.8" fill="#006f00"/>
<rect x="133.53" y="306.3" width="6.58" height="8.8" fill="#009300"/>
<rect x="140.05" y="306.3" width="3.31" height="8.8" fill="#006f00"/>
<rect x="143.32" y="306.3" width="3.31" height="8.8" fill="#08be08"/>
<rect x="146.58" y="306.3" width="3.31" height="8.8" fill="#720004"/>
<rect x="149.84" y="306.3" width="3.31" height="8.8" fill="#006f00"/>
<rect x="153.11" y="306.3" width="3.31" height="8.8" fill="#009300"/>
<rect x="156.37" y="306.3" width="6.58" height="8.8" fill="#08be08"/>
<rect x="162.89" y="306.3" width="9.84" height="8.8" fill="#009300"/>
<rect x="172.68" y="306.3" width="3.31" height="8.8" fill="#006f00"/>
<rect x="175.95" y="306.3" width="9.84" height="8.8" fill="#081202"/>
<rect x="185.74" y="306.3" width="6.58" height="8.8" fill="#009300"/>
<rect x="192.26" y="306.3" width="6.58" height="8.8" fill="#004400"/>
<rect x="198.79" y="306.3" width="3.31" height="8.8" fill="#009300"/>
<rect x="202.05" y="306.3" width="3.31" height="8.8" fill="#081202"/>
<rect x="205.32" y="306.3" width="3.31" height="8.8" fill="#006f00"/>
<rect x="208.58" y="306.3" width="6.58" height="8.8" fill="#08be08"/>
<rect x="215.11" y="306.3" width="6.58" height="8.8" fill="#006f00"/>
<rect x="221.63" y="306.3" width="3.31" height="8.8" fill="#08be08"/>
<rect x="224.89" y="306.3" width="6.58" height="8.8" fill="#19e619"/>
<rect x="231.42" y="306.3" width="3.31" height="8.8" fill="#006f00"/>
<rect x="234.68" y="306.3" width="6.58" height="8.8" fill="#08be08"/>
<rect x="241.21" y="306.3" width="3.31" height="8.8" fill="#009300"/>
<rect x="244.47" y="306.3" width="6.58" height="8.8" fill="#004400"/>
<rect x="251" y="306.3" width="3.31" height="8.8" fill="#08be08"/>
<rect x="254.26" y="306.3" width="3.31" height="8.8" fill="#006f00"/>
<rect x="257.53" y="306.3" width="6.58" height="8.8" fill="#009300"/>
<rect x="264.05" y="306.3" width="3.31" height="8.8" fill="#004400"/>
<rect x="267.32" y="306.3" width="3.31" height="8.8" fill="#081202"/>
<rect x="270.58" y="306.3" width="3.31" height="8.8" fill="#004400"/>
<rect x="273.84" y="306.3" width="6.58" height="8.8" fill="#081202"/>
<rect x="280.37" y="306.3" width="3.31" height="8.8" fill="#009300"/>
<rect x="283.63" y="306.3" width="3.31" height="8.8" fill="#480000"/>
<rect x="286.89" y="306.3" width="6.58" height="8.8" fill="#006f00"/>
<rect x="293.42" y="306.3" width="3.31" height="8.8" fill="#004400"/>
<rect x="296.68" y="306.3" width="3.31" height="8.8" fill="#006f00"/>
<rect x="299.95" y="306.3" width="3.31" height="8.8" fill="#004400"/>
<rect x="303.21" y="306.3" width="3.31" height="8.8" fill="#006f00"/>
<rect x="306.47" y="306.3" width="3.31" height="8.8" fill="#004400"/>
<rect x="309.74" y="306.3" width="5.31" height="8.8" fill="#480000"/>
<rect x="63" y="315.05" width="5.31" height="10.8" fill="#08be08"/>
<rect x="68.26" y="315.05" width="3.31" height="10.8" fill="#006f00"/>
<rect x="71.53" y="315.05" width="3.31" height="10.8" fill="#08be08"/>
<rect x="74.79" y="315.05" width="3.31" height="10.8" fill="#006f00"/>
<rect x="78.05" y="315.05" width="6.58" height="10.8" fill="#004400"/>
<rect x="84.58" y="315.05" width="3.31" height="10.8" fill="#720004"/>
<rect x="87.84" y="315.05" width="3.31" height="10.8" fill="#081202"/>
<rect x="91.11" y="315.05" width="3.31" height="10.8" fill="#006f00"/>
<rect x="94.37" y="315.05" width="6.58" height="10.8" fill="#08be08"/>
<rect x="100.89" y="315.05" width="3.31" height="10.8" fill="#009300"/>
<rect x="104.16" y="315.05" width="3.31" height="10.8" fill="#081202"/>
<rect x="107.42" y="315.05" width="3.31" height="10.8" fill="#004400"/>
<rect x="110.68" y="315.05" width="3.31" height="10.8" fill="#009300"/>
<rect x="113.95" y="315.05" width="3.31" height="10.8" fill="#081202"/>
<rect x="117.21" y="315.05" width="3.31" height="10.8" fill="#006f00"/>
<rect x="120.47" y="315.05" width="9.84" height="10.8" fill="#08be08"/>
<rect x="130.26" y="315.05" width="3.31" height="10.8" fill="#004400"/>
<rect x="133.53" y="315.05" width="3.31" height="10.8" fill="#009300"/>
<rect x="136.79" y="315.05" width="16.37" height="10.8" fill="#006f00"/>
<rect x="153.11" y="315.05" width="3.31" height="10.8" fill="#009300"/>
<rect x="156.37" y="315.05" width="6.58" height="10.8" fill="#006f00"/>
<rect x="162.89" y="315.05" width="3.31" height="10.8" fill="#009300"/>
<rect x="166.16" y="315.05" width="3.31" height="10.8" fill="#08be08"/>
<rect x="169.42" y="315.05" width="3.31" height="10.8" fill="#009300"/>
<rect x="172.68" y="315.05" width="3.31" height="10.8" fill="#006f00"/>
<rect x="175.95" y="315.05" width="3.31" height="10.8" fill="#004400"/>
<rect x="179.21" y="315.05" width="3.31" height="10.8" fill="#009300"/>
<rect x="182.47" y="315.05" width="3.31" height="10.8" fill="#08be08"/>
<rect x="185.74" y="315.05" width="3.31" height="10.8" fill="#006f00"/>
<rect x="189" y="315.05" width="3.31" height="10.8" fill="#009300"/>
<rect x="192.26" y="315.05" width="3.31" height="10.8" fill="#006f00"/>
<rect x="195.53" y="315.05" width="3.31" height="10.8" fill="#004400"/>
<rect x="198.79" y="315.05" width="3.31" height="10.8" fill="#006f00"/>
<rect x="202.05" y="315.05" width="6.58" height="10.8" fill="#009300"/>
<rect x="208.58" y="315.05" width="3.31" height="10.8" fill="#08be08"/>
<rect x="211.84" y="315.05" width="3.31" height="10.8" fill="#009300"/>
<rect x="215.11" y="315.05" width="3.31" height="10.8" fill="#006f00"/>
<rect x="218.37" y="315.05" width="6.58" height="10.8" fill="#009300"/>
<rect x="224.89" y="315.05" width="3.31" height="10.8" fill="#006f00"/>
<rect x="228.16" y="315.05" width="9.84" height="10.8" fill="#009300"/>
<rect x="237.95" y="315.05" width="3.31" height="10.8" fill="#08be08"/>
<rect x="241.21" y="315.05" width="3.31" height="10.8" fill="#009300"/>
<rect x="244.47" y="315.05" width="3.31" height="10.8" fill="#081202"/>
<rect x="247.74" y="315.05" width="3.31" height="10.8" fill="#009300"/>
<rect x="251" y="315.05" width="3.31" height="10.8" fill="#08be08"/>
<rect x="254.26" y="315.05" width="3.31" height="10.8" fill="#006f00"/>
<rect x="257.53" y="315.05" width="6.58" height="10.8" fill="#009300"/>
<rect x="264.05" y="315.05" width="3.31" height="10.8" fill="#081202"/>
<rect x="267.32" y="315.05" width="3.31" height="10.8" fill="#480000"/>
<rect x="270.58" y="315.05" width="3.31" height="10.8" fill="#009300"/>
<rect x="273.84" y="315.05" width="3.31" height="10.8" fill="#480000"/>
<rect x="277.11" y="315.05" width="3.31" height="10.8" fill="#004400"/>
<rect x="280.37" y="315.05" width="3.31" height="10.8" fill="#009300"/>
<rect x="283.63" y="315.05" width="6.58" height="10.8" fill="#480000"/>
<rect x="290.16" y="315.05" width="3.31" height="10.8" fill="#da1a1a"/>
<rect x="293.42" y="315.05" width="3.31" height="10.8" fill="#720004"/>
<rect x="296.68" y="315.05" width="3.31" height="10.8" fill="#006f00"/>
<rect x="299.95" y="315.05" width="3.31" height="10.8" fill="#009300"/>
<rect x="303.21" y="315.05" width="3.31" height="10.8" fill="#480000"/>
<rect x="306.47" y="315.05" width="3.31" height="10.8" fill="#004400"/>
<rect x="309.74" y="315.05" width="5.31" height="10.8" fill="#480000"/>
</g></g>
<g font-size="7.6" fill="#111" stroke="#111" stroke-width="0.12">
<text x="314.7" y="86.1">HOXB7</text>
<text x="314.7" y="94.86">HOXB7</text>
<text x="314.7" y="103.63">HOXB5</text>
<text x="314.7" y="112.39">HOXA11</text>
<text x="314.7" y="121.16">HOXB5</text>
<text x="314.7" y="129.93">HOXB1</text>
<text x="314.7" y="138.69">HOXA7</text>
<text x="314.7" y="147.45">HOXA3</text>
<text x="314.7" y="156.22">HOXA4</text>
<text x="314.7" y="164.99">MLL</text>
<text x="314.7" y="173.75">MLL</text>
<text x="314.7" y="182.51">MLL</text>
<text x="314.7" y="191.28">HOXA9</text>
<text x="314.7" y="200.05">HOXA10</text>
<text x="314.7" y="208.81">HOXA5</text>
<text x="314.7" y="217.58">HOXB2</text>
<text x="314.7" y="226.34">HOXA10</text>
<text x="314.7" y="235.1">HOXB6</text>
<text x="314.7" y="243.87">MEIS1</text>
<text x="314.7" y="252.64">HOXA9</text>
<text x="314.7" y="261.4">HOXA6</text>
<text x="314.7" y="270.16">HOXA7</text>
<text x="314.7" y="278.93">HOXB9</text>
<text x="314.7" y="287.7">HOXA1</text>
<text x="314.7" y="296.46">HOXB13</text>
<text x="314.7" y="305.23">HOXB8</text>
<text x="314.7" y="313.99">HOXB3</text>
<text x="314.7" y="322.75">HOXA2</text>
</g>
<rect x="356.4" y="170.8" width="107" height="38" rx="5.5" ry="5.5" fill="none" stroke="#999" stroke-width="1"/>
<rect x="355.8" y="170" width="107" height="38" rx="5.5" ry="5.5" fill="#fff" stroke="#3a3a3a" stroke-width="1"/>
<g font-size="8" fill="#111" stroke="#111" stroke-width="0.28">
<text x="407.5" y="180.6" text-anchor="middle">signal intensity</text>
<text x="370.7" y="189.6">low</text>
<text x="443.8" y="189.6" text-anchor="end">high</text>
</g>
<rect x="363" y="195.5" width="90.8" height="9.5" fill="url(#sig)"/>
<rect x="356.4" y="216.3" width="107" height="111.3" rx="6" ry="6" fill="none" stroke="#999" stroke-width="1"/>
<rect x="355.8" y="215.5" width="107" height="111.3" rx="6" ry="6" fill="#fff" stroke="#3a3a3a" stroke-width="1"/>
<rect x="361.5" y="224.5" width="12.7" height="12" fill="#1f78b4"/>
<rect x="361.5" y="244.5" width="12.7" height="12" fill="#b2df8a"/>
<rect x="361.5" y="264.5" width="12.7" height="12" fill="#33a02c"/>
<rect x="361.5" y="285" width="12.7" height="12" fill="#fb9a99"/>
<rect x="361.5" y="305.5" width="12.7" height="12" fill="#e31a1c"/>
<g font-size="8.05" fill="#111" stroke="#111" stroke-width="0.28">
<text x="400.5" y="226.8" text-anchor="middle">normal</text>
<text x="401.5" y="235.6" text-anchor="middle">bone marrow</text>
<text x="381.2" y="252.6">AML t(8;21)</text>
<text x="381.2" y="273.1">AML t(15;17)</text>
<text x="380.8" y="289.3">AML norm. karyotype</text>
<text x="418.5" y="298.8" text-anchor="middle">NPM mutated</text>
<text x="380.8" y="310.1">AML norm. karyotype</text>
<text x="418.8" y="319.3" text-anchor="middle">NPM unmutated</text>
</g>
<g>
<rect x="21.9" y="362.9" width="128.3" height="115.7" fill="#fff" stroke="#c2c2c2" stroke-width="0.6"/>
<text x="100.9" y="357.8" font-size="3.7" font-weight="bold" text-anchor="middle" fill="#000">HOX B6</text>
<path d="M20.7 368.5L21.9 368.5" stroke="#999" stroke-width="0.4"/>
<text x="20" y="369.5" font-size="2.9" text-anchor="end" fill="#222" stroke="#222" stroke-width="0.1">12</text>
<path d="M20.7 389.4L21.9 389.4" stroke="#999" stroke-width="0.4"/>
<text x="20" y="390.4" font-size="2.9" text-anchor="end" fill="#222" stroke="#222" stroke-width="0.1">11</text>
<path d="M20.7 410.3L21.9 410.3" stroke="#999" stroke-width="0.4"/>
<text x="20" y="411.3" font-size="2.9" text-anchor="end" fill="#222" stroke="#222" stroke-width="0.1">10</text>
<path d="M20.7 431.2L21.9 431.2" stroke="#999" stroke-width="0.4"/>
<text x="20" y="432.2" font-size="2.9" text-anchor="end" fill="#222" stroke="#222" stroke-width="0.1">9</text>
<path d="M20.7 452.2L21.9 452.2" stroke="#999" stroke-width="0.4"/>
<text x="20" y="453.2" font-size="2.9" text-anchor="end" fill="#222" stroke="#222" stroke-width="0.1">8</text>
<path d="M20.7 473L21.9 473" stroke="#999" stroke-width="0.4"/>
<text x="20" y="474" font-size="2.9" text-anchor="end" fill="#222" stroke="#222" stroke-width="0.1">7</text>
<path d="M38.85 451.5L38.85 459.2M38.85 465.4L38.85 470" stroke="#4c4c4c" stroke-width="0.6" fill="none"/><path d="M37.52 451.5L40.18 451.5M37.52 470L40.18 470" stroke="#5a5a5a" stroke-width="0.45" fill="none"/><rect x="33.3" y="459.2" width="11.1" height="6.2" fill="#878787" stroke="#5c5c5c" stroke-width="0.45"/><path d="M33.3 461.7L44.4 461.7" stroke="#111" stroke-width="1.25" fill="none"/>
<path d="M61.65 454.6L61.65 458.3M61.65 462.3L61.65 465.4" stroke="#4c4c4c" stroke-width="0.6" fill="none"/><path d="M60.25 454.6L63.05 454.6M60.25 465.4L63.05 465.4" stroke="#5a5a5a" stroke-width="0.45" fill="none"/><rect x="55.8" y="458.3" width="11.7" height="4" fill="#878787" stroke="#5c5c5c" stroke-width="0.45"/><path d="M55.8 460.2L67.5 460.2" stroke="#111" stroke-width="1.25" fill="none"/><circle cx="61.65" cy="451.5" r="0.55" fill="none" stroke="#8a8a8a" stroke-width="0.4"/>
<path d="M84.35 453.1L84.35 457.7M84.35 462.9L84.35 466" stroke="#4c4c4c" stroke-width="0.6" fill="none"/><path d="M82.87 453.1L85.83 453.1M82.87 466L85.83 466" stroke="#5a5a5a" stroke-width="0.45" fill="none"/><rect x="78.2" y="457.7" width="12.3" height="5.2" fill="#878787" stroke="#5c5c5c" stroke-width="0.45"/><path d="M78.2 459.8L90.5 459.8" stroke="#111" stroke-width="1.25" fill="none"/>
<path d="M107.6 380.2L107.6 420.2M107.6 456.2L107.6 466.3" stroke="#4c4c4c" stroke-width="0.6" fill="none"/><path d="M106.23 380.2L108.97 380.2M106.23 466.3L108.97 466.3" stroke="#5a5a5a" stroke-width="0.45" fill="none"/><rect x="101.9" y="420.2" width="11.4" height="36" fill="#878787" stroke="#5c5c5c" stroke-width="0.45"/><path d="M101.9 431.2L113.3 431.2" stroke="#111" stroke-width="1.25" fill="none"/>
<path d="M130.1 399.2L130.1 406M130.1 415.5L130.1 424.8" stroke="#4c4c4c" stroke-width="0.6" fill="none"/><path d="M128.73 399.2L131.47 399.2M128.73 424.8L131.47 424.8" stroke="#5a5a5a" stroke-width="0.45" fill="none"/><rect x="124.4" y="406" width="11.4" height="9.5" fill="#878787" stroke="#5c5c5c" stroke-width="0.45"/><path d="M124.4 413.1L135.8 413.1" stroke="#111" stroke-width="1.25" fill="none"/><circle cx="130.1" cy="388.5" r="0.55" fill="none" stroke="#8a8a8a" stroke-width="0.4"/><circle cx="130.1" cy="441.4" r="0.55" fill="none" stroke="#8a8a8a" stroke-width="0.4"/>
<path d="M38.8 478.6L38.8 479.8" stroke="#999" stroke-width="0.4"/>
<text x="38.8" y="484.8" font-size="3" text-anchor="middle" fill="#222" stroke="#222" stroke-width="0.1">normal BM</text>
<path d="M61.7 478.6L61.7 479.8" stroke="#999" stroke-width="0.4"/>
<text x="61.7" y="484.8" font-size="3" text-anchor="middle" fill="#222" stroke="#222" stroke-width="0.1">AML t(8;21)</text>
<path d="M84.4 478.6L84.4 479.8" stroke="#999" stroke-width="0.4"/>
<text x="84.4" y="484.8" font-size="3" text-anchor="middle" fill="#222" stroke="#222" stroke-width="0.1">AML t(15;17)</text>
<path d="M107.6 478.6L107.6 479.8" stroke="#999" stroke-width="0.4"/>
<text x="107.6" y="484.8" font-size="3" text-anchor="middle" fill="#222" stroke="#222" stroke-width="0.1">AML normal</text>
<text x="107.6" y="487.6" font-size="3" text-anchor="middle" fill="#222" stroke="#222" stroke-width="0.1">karyotype NPM</text>
<text x="107.6" y="490.4" font-size="3" text-anchor="middle" fill="#222" stroke="#222" stroke-width="0.1">wildtype</text>
<path d="M130.1 478.6L130.1 479.8" stroke="#999" stroke-width="0.4"/>
<text x="130.1" y="484.8" font-size="3" text-anchor="middle" fill="#222" stroke="#222" stroke-width="0.1">AML normal</text>
<text x="130.1" y="487.6" font-size="3" text-anchor="middle" fill="#222" stroke="#222" stroke-width="0.1">karyotype NPM</text>
<text x="130.1" y="490.4" font-size="3" text-anchor="middle" fill="#222" stroke="#222" stroke-width="0.1">mutated</text>
</g>
<g>
<rect x="171.8" y="360.8" width="126.4" height="117.8" fill="#fff" stroke="#c2c2c2" stroke-width="0.6"/>
<text x="251.6" y="356.1" font-size="3.7" font-weight="bold" text-anchor="middle" fill="#000">HOX B2</text>
<path d="M170.6 378.3L171.8 378.3" stroke="#999" stroke-width="0.4"/>
<text x="169.6" y="379.3" font-size="2.9" text-anchor="end" fill="#222" stroke="#222" stroke-width="0.1">12</text>
<path d="M170.6 401.7L171.8 401.7" stroke="#999" stroke-width="0.4"/>
<text x="169.6" y="402.7" font-size="2.9" text-anchor="end" fill="#222" stroke="#222" stroke-width="0.1">11</text>
<path d="M170.6 425.1L171.8 425.1" stroke="#999" stroke-width="0.4"/>
<text x="169.6" y="426.1" font-size="2.9" text-anchor="end" fill="#222" stroke="#222" stroke-width="0.1">10</text>
<path d="M170.6 448.5L171.8 448.5" stroke="#999" stroke-width="0.4"/>
<text x="169.6" y="449.5" font-size="2.9" text-anchor="end" fill="#222" stroke="#222" stroke-width="0.1">9</text>
<path d="M170.6 471.8L171.8 471.8" stroke="#999" stroke-width="0.4"/>
<text x="169.6" y="472.8" font-size="2.9" text-anchor="end" fill="#222" stroke="#222" stroke-width="0.1">8</text>
<path d="M189.35 436.2L189.35 438.6M189.35 450L189.35 453.7" stroke="#4c4c4c" stroke-width="0.6" fill="none"/><path d="M187.95 436.2L190.75 436.2M187.95 453.7L190.75 453.7" stroke="#5a5a5a" stroke-width="0.45" fill="none"/><rect x="183.5" y="438.6" width="11.7" height="11.4" fill="#878787" stroke="#5c5c5c" stroke-width="0.45"/><path d="M183.5 441.7L195.2 441.7" stroke="#111" stroke-width="1.25" fill="none"/>
<path d="M211.9 440.8L211.9 448.5M211.9 453.1L211.9 459.2" stroke="#4c4c4c" stroke-width="0.6" fill="none"/><path d="M210.46 440.8L213.34 440.8M210.46 459.2L213.34 459.2" stroke="#5a5a5a" stroke-width="0.45" fill="none"/><rect x="205.9" y="448.5" width="12" height="4.6" fill="#878787" stroke="#5c5c5c" stroke-width="0.45"/><path d="M205.9 450.9L217.9 450.9" stroke="#111" stroke-width="1.25" fill="none"/><circle cx="211.9" cy="461.4" r="0.55" fill="none" stroke="#8a8a8a" stroke-width="0.4"/>
<path d="M235.3 440.8L235.3 443.2M235.3 450.3L235.3 453.1" stroke="#4c4c4c" stroke-width="0.6" fill="none"/><path d="M233.93 440.8L236.67 440.8M233.93 453.1L236.67 453.1" stroke="#5a5a5a" stroke-width="0.45" fill="none"/><rect x="229.6" y="443.2" width="11.4" height="7.1" fill="#878787" stroke="#5c5c5c" stroke-width="0.45"/><path d="M229.6 446.9L241 446.9" stroke="#111" stroke-width="1.25" fill="none"/>
<path d="M258.1 372.2L258.1 395.5M258.1 439.2L258.1 457.7" stroke="#4c4c4c" stroke-width="0.6" fill="none"/><path d="M256.66 372.2L259.54 372.2M256.66 457.7L259.54 457.7" stroke="#5a5a5a" stroke-width="0.45" fill="none"/><rect x="252.1" y="395.5" width="12" height="43.7" fill="#878787" stroke="#5c5c5c" stroke-width="0.45"/><path d="M252.1 422.3L264.1 422.3" stroke="#111" stroke-width="1.25" fill="none"/>
<path d="M281 370L281 381.4M281 410L281 439.8" stroke="#4c4c4c" stroke-width="0.6" fill="none"/><path d="M279.61 370L282.39 370M279.61 439.8L282.39 439.8" stroke="#5a5a5a" stroke-width="0.45" fill="none"/><rect x="275.2" y="381.4" width="11.6" height="28.6" fill="#878787" stroke="#5c5c5c" stroke-width="0.45"/><path d="M275.2 390.9L286.8 390.9" stroke="#111" stroke-width="1.25" fill="none"/>
<path d="M189.3 478.6L189.3 479.8" stroke="#999" stroke-width="0.4"/>
<text x="189.3" y="482.8" font-size="3" text-anchor="middle" fill="#222" stroke="#222" stroke-width="0.1">normal BM</text>
<path d="M211.9 478.6L211.9 479.8" stroke="#999" stroke-width="0.4"/>
<text x="211.9" y="482.8" font-size="3" text-anchor="middle" fill="#222" stroke="#222" stroke-width="0.1">AML t(8;21)</text>
<path d="M235.3 478.6L235.3 479.8" stroke="#999" stroke-width="0.4"/>
<text x="235.3" y="482.8" font-size="3" text-anchor="middle" fill="#222" stroke="#222" stroke-width="0.1">AML t(15;17)</text>
<path d="M258.1 478.6L258.1 479.8" stroke="#999" stroke-width="0.4"/>
<text x="258.1" y="482.8" font-size="3" text-anchor="middle" fill="#222" stroke="#222" stroke-width="0.1">AML normal</text>
<text x="258.1" y="485.6" font-size="3" text-anchor="middle" fill="#222" stroke="#222" stroke-width="0.1">karyotype NPM</text>
<text x="258.1" y="488.4" font-size="3" text-anchor="middle" fill="#222" stroke="#222" stroke-width="0.1">wildtype</text>
<path d="M281 478.6L281 479.8" stroke="#999" stroke-width="0.4"/>
<text x="281" y="482.8" font-size="3" text-anchor="middle" fill="#222" stroke="#222" stroke-width="0.1">AML normal</text>
<text x="281" y="485.6" font-size="3" text-anchor="middle" fill="#222" stroke="#222" stroke-width="0.1">karyotype NPM</text>
<text x="281" y="488.4" font-size="3" text-anchor="middle" fill="#222" stroke="#222" stroke-width="0.1">mutated</text>
</g>
<g>
<rect x="322.5" y="360.2" width="127.3" height="116" fill="#fff" stroke="#c2c2c2" stroke-width="0.6"/>
<text x="402" y="355.3" font-size="3.7" font-weight="bold" text-anchor="middle" fill="#000">HOX A9</text>
<path d="M321.3 365.4L322.5 365.4" stroke="#999" stroke-width="0.4"/>
<text x="320.3" y="366.4" font-size="2.9" text-anchor="end" fill="#222" stroke="#222" stroke-width="0.1">14</text>
<path d="M321.3 392.2L322.5 392.2" stroke="#999" stroke-width="0.4"/>
<text x="320.3" y="393.2" font-size="2.9" text-anchor="end" fill="#222" stroke="#222" stroke-width="0.1">12</text>
<path d="M321.3 418.3L322.5 418.3" stroke="#999" stroke-width="0.4"/>
<text x="320.3" y="419.3" font-size="2.9" text-anchor="end" fill="#222" stroke="#222" stroke-width="0.1">10</text>
<path d="M321.3 444.8L322.5 444.8" stroke="#999" stroke-width="0.4"/>
<text x="320.3" y="445.8" font-size="2.9" text-anchor="end" fill="#222" stroke="#222" stroke-width="0.1">8</text>
<path d="M321.3 470.9L322.5 470.9" stroke="#999" stroke-width="0.4"/>
<text x="320.3" y="471.9" font-size="2.9" text-anchor="end" fill="#222" stroke="#222" stroke-width="0.1">6</text>
<path d="M332.85 436.2L332.85 438.3M332.85 441.4L332.85 443.8" stroke="#4c4c4c" stroke-width="0.6" fill="none"/><path d="M331.93 436.2L333.77 436.2M331.93 443.8L333.77 443.8" stroke="#5a5a5a" stroke-width="0.45" fill="none"/><rect x="329" y="438.3" width="7.7" height="3.1" fill="#878787" stroke="#5c5c5c" stroke-width="0.45"/><path d="M329 439.8L336.7 439.8" stroke="#111" stroke-width="1.25" fill="none"/><circle cx="332.85" cy="429.4" r="0.55" fill="none" stroke="#8a8a8a" stroke-width="0.4"/>
<path d="M340.85 438.6L340.85 440.8M340.85 444.5L340.85 447.8" stroke="#4c4c4c" stroke-width="0.6" fill="none"/><path d="M339.85 438.6L341.85 438.6M339.85 447.8L341.85 447.8" stroke="#5a5a5a" stroke-width="0.45" fill="none"/><rect x="336.7" y="440.8" width="8.3" height="3.7" fill="#eeeeee" stroke="#9a9a9a" stroke-width="0.45"/><path d="M336.7 442.3L345 442.3" stroke="#111" stroke-width="1.25" fill="none"/><circle cx="340.85" cy="429.4" r="0.55" fill="none" stroke="#8a8a8a" stroke-width="0.4"/>
<path d="M357.45 441.7L357.45 445.4M357.45 449.1L357.45 451.5" stroke="#4c4c4c" stroke-width="0.6" fill="none"/><path d="M356.53 441.7L358.37 441.7M356.53 451.5L358.37 451.5" stroke="#5a5a5a" stroke-width="0.45" fill="none"/><rect x="353.6" y="445.4" width="7.7" height="3.7" fill="#878787" stroke="#5c5c5c" stroke-width="0.45"/><path d="M353.6 447.2L361.3 447.2" stroke="#111" stroke-width="1.25" fill="none"/>
<path d="M365.45 456.2L365.45 459.8M365.45 462.9L365.45 466" stroke="#4c4c4c" stroke-width="0.6" fill="none"/><path d="M364.45 456.2L366.45 456.2M364.45 466L366.45 466" stroke="#5a5a5a" stroke-width="0.45" fill="none"/><rect x="361.3" y="459.8" width="8.3" height="3.1" fill="#eeeeee" stroke="#9a9a9a" stroke-width="0.45"/><path d="M361.3 461.4L369.6 461.4" stroke="#111" stroke-width="1.25" fill="none"/><circle cx="365.45" cy="454.6" r="0.55" fill="none" stroke="#8a8a8a" stroke-width="0.4"/><circle cx="365.45" cy="468.5" r="0.55" fill="none" stroke="#8a8a8a" stroke-width="0.4"/>
<path d="M381.75 442.3L381.75 446M381.75 448.8L381.75 451.5" stroke="#4c4c4c" stroke-width="0.6" fill="none"/><path d="M380.83 442.3L382.67 442.3M380.83 451.5L382.67 451.5" stroke="#5a5a5a" stroke-width="0.45" fill="none"/><rect x="377.9" y="446" width="7.7" height="2.8" fill="#878787" stroke="#5c5c5c" stroke-width="0.45"/><path d="M377.9 447.5L385.6 447.5" stroke="#111" stroke-width="1.25" fill="none"/>
<path d="M389.9 456.8L389.9 459.8M389.9 462.9L389.9 465.4" stroke="#4c4c4c" stroke-width="0.6" fill="none"/><path d="M388.87 456.8L390.93 456.8M388.87 465.4L390.93 465.4" stroke="#5a5a5a" stroke-width="0.45" fill="none"/><rect x="385.6" y="459.8" width="8.6" height="3.1" fill="#eeeeee" stroke="#9a9a9a" stroke-width="0.45"/><path d="M385.6 461.4L394.2 461.4" stroke="#111" stroke-width="1.25" fill="none"/><circle cx="389.9" cy="453.7" r="0.55" fill="none" stroke="#8a8a8a" stroke-width="0.4"/>
<path d="M406.2 389.4L406.2 402.3M406.2 422.9L406.2 450" stroke="#4c4c4c" stroke-width="0.6" fill="none"/><path d="M405.24 389.4L407.16 389.4M405.24 450L407.16 450" stroke="#5a5a5a" stroke-width="0.45" fill="none"/><rect x="402.2" y="402.3" width="8" height="20.6" fill="#878787" stroke="#5c5c5c" stroke-width="0.45"/><path d="M402.2 411.5L410.2 411.5" stroke="#111" stroke-width="1.25" fill="none"/>
<path d="M414.5 384.8L414.5 397.7M414.5 425.4L414.5 463.8" stroke="#4c4c4c" stroke-width="0.6" fill="none"/><path d="M413.47 384.8L415.53 384.8M413.47 463.8L415.53 463.8" stroke="#5a5a5a" stroke-width="0.45" fill="none"/><rect x="410.2" y="397.7" width="8.6" height="27.7" fill="#eeeeee" stroke="#9a9a9a" stroke-width="0.45"/><path d="M410.2 404.8L418.8 404.8" stroke="#111" stroke-width="1.25" fill="none"/>
<path d="M430.65 377L430.65 386M430.65 395.5L430.65 397.7" stroke="#4c4c4c" stroke-width="0.6" fill="none"/><path d="M429.73 377L431.57 377M429.73 397.7L431.57 397.7" stroke="#5a5a5a" stroke-width="0.45" fill="none"/><rect x="426.8" y="386" width="7.7" height="9.5" fill="#878787" stroke="#5c5c5c" stroke-width="0.45"/><path d="M426.8 389.4L434.5 389.4" stroke="#111" stroke-width="1.25" fill="none"/><circle cx="430.65" cy="420.2" r="0.55" fill="none" stroke="#8a8a8a" stroke-width="0.4"/>
<path d="M438.65 372.2L438.65 380.8M438.65 388.5L438.65 392.5" stroke="#4c4c4c" stroke-width="0.6" fill="none"/><path d="M437.65 372.2L439.65 372.2M437.65 392.5L439.65 392.5" stroke="#5a5a5a" stroke-width="0.45" fill="none"/><rect x="434.5" y="380.8" width="8.3" height="7.7" fill="#eeeeee" stroke="#9a9a9a" stroke-width="0.45"/><path d="M434.5 385.4L442.8 385.4" stroke="#111" stroke-width="1.25" fill="none"/><circle cx="438.65" cy="404.8" r="0.55" fill="none" stroke="#8a8a8a" stroke-width="0.4"/>
<path d="M336.7 476.2L336.7 477.4" stroke="#999" stroke-width="0.4"/>
<text x="336.7" y="481.8" font-size="3" text-anchor="middle" fill="#222" stroke="#222" stroke-width="0.1">normal BM</text>
<path d="M361.3 476.2L361.3 477.4" stroke="#999" stroke-width="0.4"/>
<text x="361.3" y="481.8" font-size="3" text-anchor="middle" fill="#222" stroke="#222" stroke-width="0.1">AML t(8;21)</text>
<path d="M385.6 476.2L385.6 477.4" stroke="#999" stroke-width="0.4"/>
<text x="385.6" y="481.8" font-size="3" text-anchor="middle" fill="#222" stroke="#222" stroke-width="0.1">AML t(15;17)</text>
<path d="M410.2 476.2L410.2 477.4" stroke="#999" stroke-width="0.4"/>
<text x="410.2" y="481.8" font-size="3" text-anchor="middle" fill="#222" stroke="#222" stroke-width="0.1">AML normal</text>
<text x="410.2" y="484.6" font-size="3" text-anchor="middle" fill="#222" stroke="#222" stroke-width="0.1">karyotype NPM</text>
<text x="410.2" y="487.4" font-size="3" text-anchor="middle" fill="#222" stroke="#222" stroke-width="0.1">wildtype</text>
<path d="M434.5 476.2L434.5 477.4" stroke="#999" stroke-width="0.4"/>
<text x="434.5" y="481.8" font-size="3" text-anchor="middle" fill="#222" stroke="#222" stroke-width="0.1">AML normal</text>
<text x="434.5" y="484.6" font-size="3" text-anchor="middle" fill="#222" stroke="#222" stroke-width="0.1">karyotype NPM</text>
<text x="434.5" y="487.4" font-size="3" text-anchor="middle" fill="#222" stroke="#222" stroke-width="0.1">mutated</text>
<rect x="456.9" y="362.9" width="2" height="2.3" fill="#878787" stroke="#555" stroke-width="0.3"/>
<rect x="456.9" y="370.4" width="2" height="2.3" fill="#eeeeee" stroke="#777" stroke-width="0.3"/>
<g font-size="2.95" fill="#222" stroke="#222" stroke-width="0.1">
<text x="460.1" y="363.4">homeobox A9</text>
<text x="460.1" y="366.9">(209905_at)</text>
<text x="460.1" y="370.6">homeobox A9</text>
<text x="460.1" y="374.2">(214651_s_at)</text>
</g>
</g>
<g>
<rect x="21.9" y="516.9" width="127.7" height="116" fill="#fff" stroke="#c2c2c2" stroke-width="0.6"/>
<text x="101.25" y="511.3" font-size="3.7" font-weight="bold" text-anchor="middle" fill="#000">HOX A5</text>
<path d="M20.7 522.2L21.9 522.2" stroke="#999" stroke-width="0.4"/>
<text x="20" y="523.2" font-size="2.9" text-anchor="end" fill="#222" stroke="#222" stroke-width="0.1">13</text>
<path d="M20.7 540L21.9 540" stroke="#999" stroke-width="0.4"/>
<text x="20" y="541" font-size="2.9" text-anchor="end" fill="#222" stroke="#222" stroke-width="0.1">12</text>
<path d="M20.7 557.5L21.9 557.5" stroke="#999" stroke-width="0.4"/>
<text x="20" y="558.5" font-size="2.9" text-anchor="end" fill="#222" stroke="#222" stroke-width="0.1">11</text>
<path d="M20.7 574.8L21.9 574.8" stroke="#999" stroke-width="0.4"/>
<text x="20" y="575.8" font-size="2.9" text-anchor="end" fill="#222" stroke="#222" stroke-width="0.1">10</text>
<path d="M20.7 592.3L21.9 592.3" stroke="#999" stroke-width="0.4"/>
<text x="20" y="593.3" font-size="2.9" text-anchor="end" fill="#222" stroke="#222" stroke-width="0.1">9</text>
<path d="M20.7 609.8L21.9 609.8" stroke="#999" stroke-width="0.4"/>
<text x="20" y="610.8" font-size="2.9" text-anchor="end" fill="#222" stroke="#222" stroke-width="0.1">8</text>
<path d="M20.7 627.1L21.9 627.1" stroke="#999" stroke-width="0.4"/>
<text x="20" y="628.1" font-size="2.9" text-anchor="end" fill="#222" stroke="#222" stroke-width="0.1">7</text>
<path d="M38.55 592.3L38.55 596.3M38.55 602.5L38.55 605.2" stroke="#4c4c4c" stroke-width="0.6" fill="none"/><path d="M37.15 592.3L39.95 592.3M37.15 605.2L39.95 605.2" stroke="#5a5a5a" stroke-width="0.45" fill="none"/><rect x="32.7" y="596.3" width="11.7" height="6.2" fill="#878787" stroke="#5c5c5c" stroke-width="0.45"/><path d="M32.7 599.1L44.4 599.1" stroke="#111" stroke-width="1.25" fill="none"/>
<path d="M61.65 600L61.65 602.5M61.65 606.2L61.65 610.8" stroke="#4c4c4c" stroke-width="0.6" fill="none"/><path d="M60.25 600L63.05 600M60.25 610.8L63.05 610.8" stroke="#5a5a5a" stroke-width="0.45" fill="none"/><rect x="55.8" y="602.5" width="11.7" height="3.7" fill="#878787" stroke="#5c5c5c" stroke-width="0.45"/><path d="M55.8 604L67.5 604" stroke="#111" stroke-width="1.25" fill="none"/><circle cx="61.65" cy="584.6" r="0.55" fill="none" stroke="#8a8a8a" stroke-width="0.4"/>
<path d="M84.65 595.4L84.65 600.9M84.65 610.2L84.65 616.9" stroke="#4c4c4c" stroke-width="0.6" fill="none"/><path d="M83.25 595.4L86.05 595.4M83.25 616.9L86.05 616.9" stroke="#5a5a5a" stroke-width="0.45" fill="none"/><rect x="78.8" y="600.9" width="11.7" height="9.3" fill="#878787" stroke="#5c5c5c" stroke-width="0.45"/><path d="M78.8 605.2L90.5 605.2" stroke="#111" stroke-width="1.25" fill="none"/><circle cx="84.65" cy="543.1" r="0.55" fill="none" stroke="#8a8a8a" stroke-width="0.4"/><circle cx="84.65" cy="578.5" r="0.55" fill="none" stroke="#8a8a8a" stroke-width="0.4"/>
<path d="M107.6 545.5L107.6 569.2M107.6 590.8L107.6 606.2" stroke="#4c4c4c" stroke-width="0.6" fill="none"/><path d="M106.23 545.5L108.97 545.5M106.23 606.2L108.97 606.2" stroke="#5a5a5a" stroke-width="0.45" fill="none"/><rect x="101.9" y="569.2" width="11.4" height="21.6" fill="#878787" stroke="#5c5c5c" stroke-width="0.45"/><path d="M101.9 588.6L113.3 588.6" stroke="#111" stroke-width="1.25" fill="none"/><circle cx="107.6" cy="533.8" r="0.55" fill="none" stroke="#8a8a8a" stroke-width="0.4"/>
<path d="M130.4 524L130.4 534.5M130.4 549.2L130.4 556.9" stroke="#4c4c4c" stroke-width="0.6" fill="none"/><path d="M128.96 524L131.84 524M128.96 556.9L131.84 556.9" stroke="#5a5a5a" stroke-width="0.45" fill="none"/><rect x="124.4" y="534.5" width="12" height="14.7" fill="#878787" stroke="#5c5c5c" stroke-width="0.45"/><path d="M124.4 540.6L136.4 540.6" stroke="#111" stroke-width="1.25" fill="none"/><circle cx="130.4" cy="573.2" r="0.55" fill="none" stroke="#8a8a8a" stroke-width="0.4"/>
<path d="M38.6 632.9L38.6 634.1" stroke="#999" stroke-width="0.4"/>
<text x="38.6" y="638.5" font-size="3" text-anchor="middle" fill="#222" stroke="#222" stroke-width="0.1">normal BM</text>
<path d="M61.7 632.9L61.7 634.1" stroke="#999" stroke-width="0.4"/>
<text x="61.7" y="638.5" font-size="3" text-anchor="middle" fill="#222" stroke="#222" stroke-width="0.1">AML t(8;21)</text>
<path d="M84.6 632.9L84.6 634.1" stroke="#999" stroke-width="0.4"/>
<text x="84.6" y="638.5" font-size="3" text-anchor="middle" fill="#222" stroke="#222" stroke-width="0.1">AML t(15;17)</text>
<path d="M107.6 632.9L107.6 634.1" stroke="#999" stroke-width="0.4"/>
<text x="107.6" y="638.5" font-size="3" text-anchor="middle" fill="#222" stroke="#222" stroke-width="0.1">AML normal</text>
<text x="107.6" y="641.3" font-size="3" text-anchor="middle" fill="#222" stroke="#222" stroke-width="0.1">karyotype NPM</text>
<text x="107.6" y="644.1" font-size="3" text-anchor="middle" fill="#222" stroke="#222" stroke-width="0.1">wildtype</text>
<path d="M130.4 632.9L130.4 634.1" stroke="#999" stroke-width="0.4"/>
<text x="130.4" y="638.5" font-size="3" text-anchor="middle" fill="#222" stroke="#222" stroke-width="0.1">AML normal</text>
<text x="130.4" y="641.3" font-size="3" text-anchor="middle" fill="#222" stroke="#222" stroke-width="0.1">karyotype NPM</text>
<text x="130.4" y="644.1" font-size="3" text-anchor="middle" fill="#222" stroke="#222" stroke-width="0.1">mutated</text>
</g>
<g>
<rect x="172.6" y="516.3" width="127.7" height="117" fill="#fff" stroke="#c2c2c2" stroke-width="0.6"/>
<text x="252.75" y="511.5" font-size="3.7" font-weight="bold" text-anchor="middle" fill="#000">HOX A 10</text>
<path d="M171.4 522.5L172.6 522.5" stroke="#999" stroke-width="0.4"/>
<text x="170.4" y="523.5" font-size="2.9" text-anchor="end" fill="#222" stroke="#222" stroke-width="0.1">14</text>
<path d="M171.4 549.2L172.6 549.2" stroke="#999" stroke-width="0.4"/>
<text x="170.4" y="550.2" font-size="2.9" text-anchor="end" fill="#222" stroke="#222" stroke-width="0.1">12</text>
<path d="M171.4 575.5L172.6 575.5" stroke="#999" stroke-width="0.4"/>
<text x="170.4" y="576.5" font-size="2.9" text-anchor="end" fill="#222" stroke="#222" stroke-width="0.1">10</text>
<path d="M171.4 602.1L172.6 602.1" stroke="#999" stroke-width="0.4"/>
<text x="170.4" y="603.1" font-size="2.9" text-anchor="end" fill="#222" stroke="#222" stroke-width="0.1">8</text>
<path d="M171.4 628.8L172.6 628.8" stroke="#999" stroke-width="0.4"/>
<text x="170.4" y="629.8" font-size="2.9" text-anchor="end" fill="#222" stroke="#222" stroke-width="0.1">6</text>
<path d="M182.65 587.2L182.65 588.6M182.65 591.4L182.65 592.8" stroke="#4c4c4c" stroke-width="0.6" fill="none"/><path d="M181.73 587.2L183.57 587.2M181.73 592.8L183.57 592.8" stroke="#5a5a5a" stroke-width="0.45" fill="none"/><rect x="178.8" y="588.6" width="7.7" height="2.8" fill="#878787" stroke="#5c5c5c" stroke-width="0.45"/><path d="M178.8 590L186.5 590" stroke="#111" stroke-width="1.25" fill="none"/><circle cx="182.65" cy="582" r="0.55" fill="none" stroke="#8a8a8a" stroke-width="0.4"/>
<path d="M190.45 594.2L190.45 596.9M190.45 601.1L190.45 604.5" stroke="#4c4c4c" stroke-width="0.6" fill="none"/><path d="M189.5 594.2L191.4 594.2M189.5 604.5L191.4 604.5" stroke="#5a5a5a" stroke-width="0.45" fill="none"/><rect x="186.5" y="596.9" width="7.9" height="4.2" fill="#eeeeee" stroke="#9a9a9a" stroke-width="0.45"/><path d="M186.5 598.7L194.4 598.7" stroke="#111" stroke-width="1.25" fill="none"/>
<path d="M207.05 584.8L207.05 587.6M207.05 591.4L207.05 594.2" stroke="#4c4c4c" stroke-width="0.6" fill="none"/><path d="M206.1 584.8L208 584.8M206.1 594.2L208 594.2" stroke="#5a5a5a" stroke-width="0.45" fill="none"/><rect x="203.1" y="587.6" width="7.9" height="3.8" fill="#878787" stroke="#5c5c5c" stroke-width="0.45"/><path d="M203.1 589.3L211 589.3" stroke="#111" stroke-width="1.25" fill="none"/>
<path d="M215.15 598.7L215.15 603.8M215.15 607.3L215.15 612.5" stroke="#4c4c4c" stroke-width="0.6" fill="none"/><path d="M214.15 598.7L216.15 598.7M214.15 612.5L216.15 612.5" stroke="#5a5a5a" stroke-width="0.45" fill="none"/><rect x="211" y="603.8" width="8.3" height="3.5" fill="#eeeeee" stroke="#9a9a9a" stroke-width="0.45"/><path d="M211 605.6L219.3 605.6" stroke="#111" stroke-width="1.25" fill="none"/>
<path d="M232 584.1L232 590M232 594.5L232 597.6" stroke="#4c4c4c" stroke-width="0.6" fill="none"/><path d="M231.04 584.1L232.96 584.1M231.04 597.6L232.96 597.6" stroke="#5a5a5a" stroke-width="0.45" fill="none"/><rect x="228" y="590" width="8" height="4.5" fill="#878787" stroke="#5c5c5c" stroke-width="0.45"/><path d="M228 592.1L236 592.1" stroke="#111" stroke-width="1.25" fill="none"/>
<path d="M240.3 596.9L240.3 602.1M240.3 608.3L240.3 610.8" stroke="#4c4c4c" stroke-width="0.6" fill="none"/><path d="M239.27 596.9L241.33 596.9M239.27 610.8L241.33 610.8" stroke="#5a5a5a" stroke-width="0.45" fill="none"/><rect x="236" y="602.1" width="8.6" height="6.2" fill="#eeeeee" stroke="#9a9a9a" stroke-width="0.45"/><path d="M236 605.9L244.6 605.9" stroke="#111" stroke-width="1.25" fill="none"/><circle cx="240.3" cy="591.7" r="0.55" fill="none" stroke="#8a8a8a" stroke-width="0.4"/>
<path d="M256.75 564L256.75 572M256.75 582L256.75 591.7" stroke="#4c4c4c" stroke-width="0.6" fill="none"/><path d="M255.75 564L257.75 564M255.75 591.7L257.75 591.7" stroke="#5a5a5a" stroke-width="0.45" fill="none"/><rect x="252.6" y="572" width="8.3" height="10" fill="#878787" stroke="#5c5c5c" stroke-width="0.45"/><path d="M252.6 576.8L260.9 576.8" stroke="#111" stroke-width="1.25" fill="none"/>
<path d="M265.2 561.6L265.2 566.5M265.2 586.5L265.2 609" stroke="#4c4c4c" stroke-width="0.6" fill="none"/><path d="M264.17 561.6L266.23 561.6M264.17 609L266.23 609" stroke="#5a5a5a" stroke-width="0.45" fill="none"/><rect x="260.9" y="566.5" width="8.6" height="20" fill="#eeeeee" stroke="#9a9a9a" stroke-width="0.45"/><path d="M260.9 574.4L269.5 574.4" stroke="#111" stroke-width="1.25" fill="none"/>
<path d="M281.85 554.7L281.85 561.6M281.85 571L281.85 576.8" stroke="#4c4c4c" stroke-width="0.6" fill="none"/><path d="M280.81 554.7L282.89 554.7M280.81 576.8L282.89 576.8" stroke="#5a5a5a" stroke-width="0.45" fill="none"/><rect x="277.5" y="561.6" width="8.7" height="9.4" fill="#878787" stroke="#5c5c5c" stroke-width="0.45"/><path d="M277.5 565.8L286.2 565.8" stroke="#111" stroke-width="1.25" fill="none"/>
<path d="M290.5 548.5L290.5 557.1M290.5 565.8L290.5 571.7" stroke="#4c4c4c" stroke-width="0.6" fill="none"/><path d="M289.47 548.5L291.53 548.5M289.47 571.7L291.53 571.7" stroke="#5a5a5a" stroke-width="0.45" fill="none"/><rect x="286.2" y="557.1" width="8.6" height="8.7" fill="#eeeeee" stroke="#9a9a9a" stroke-width="0.45"/><path d="M286.2 561.6L294.8 561.6" stroke="#111" stroke-width="1.25" fill="none"/><circle cx="290.5" cy="584.8" r="0.55" fill="none" stroke="#8a8a8a" stroke-width="0.4"/>
<path d="M186.5 633.3L186.5 634.5" stroke="#999" stroke-width="0.4"/>
<text x="186.5" y="639.5" font-size="3" text-anchor="middle" fill="#222" stroke="#222" stroke-width="0.1">normal BM</text>
<path d="M211 633.3L211 634.5" stroke="#999" stroke-width="0.4"/>
<text x="211" y="639.5" font-size="3" text-anchor="middle" fill="#222" stroke="#222" stroke-width="0.1">AML t(8;21)</text>
<path d="M236 633.3L236 634.5" stroke="#999" stroke-width="0.4"/>
<text x="236" y="639.5" font-size="3" text-anchor="middle" fill="#222" stroke="#222" stroke-width="0.1">AML t(15;17)</text>
<path d="M260.9 633.3L260.9 634.5" stroke="#999" stroke-width="0.4"/>
<text x="260.9" y="639.5" font-size="3" text-anchor="middle" fill="#222" stroke="#222" stroke-width="0.1">AML normal</text>
<text x="260.9" y="642.3" font-size="3" text-anchor="middle" fill="#222" stroke="#222" stroke-width="0.1">karyotype NPM</text>
<text x="260.9" y="645.1" font-size="3" text-anchor="middle" fill="#222" stroke="#222" stroke-width="0.1">wildtype</text>
<path d="M286.2 633.3L286.2 634.5" stroke="#999" stroke-width="0.4"/>
<text x="286.2" y="639.5" font-size="3" text-anchor="middle" fill="#222" stroke="#222" stroke-width="0.1">AML normal</text>
<text x="286.2" y="642.3" font-size="3" text-anchor="middle" fill="#222" stroke="#222" stroke-width="0.1">karyotype NPM</text>
<text x="286.2" y="645.1" font-size="3" text-anchor="middle" fill="#222" stroke="#222" stroke-width="0.1">mutated</text>
<rect x="308.8" y="519.2" width="2" height="2.3" fill="#878787" stroke="#555" stroke-width="0.3"/>
<rect x="308.8" y="526.7" width="2" height="2.3" fill="#eeeeee" stroke="#777" stroke-width="0.3"/>
<g font-size="2.95" fill="#222" stroke="#222" stroke-width="0.1">
<text x="312" y="519.7">homeobox A10</text>
<text x="312" y="523.2">(213147_at)</text>
<text x="312" y="526.9">homeobox A10</text>
<text x="312" y="530.5">(213150_at)</text>
</g>
</g>
<g>
<rect x="359.7" y="516.6" width="128.4" height="117.7" fill="#fff" stroke="#c2c2c2" stroke-width="0.6"/>
<text x="439.25" y="512.1" font-size="3.7" font-weight="bold" text-anchor="middle" fill="#000">HOX B5</text>
<path d="M358.5 522.5L359.7 522.5" stroke="#999" stroke-width="0.4"/>
<text x="357.6" y="523.5" font-size="2.9" text-anchor="end" fill="#222" stroke="#222" stroke-width="0.1">11.0</text>
<path d="M358.5 540.5L359.7 540.5" stroke="#999" stroke-width="0.4"/>
<text x="357.6" y="541.5" font-size="2.9" text-anchor="end" fill="#222" stroke="#222" stroke-width="0.1">10.5</text>
<path d="M358.5 558.2L359.7 558.2" stroke="#999" stroke-width="0.4"/>
<text x="357.6" y="559.2" font-size="2.9" text-anchor="end" fill="#222" stroke="#222" stroke-width="0.1">10.0</text>
<path d="M358.5 575.5L359.7 575.5" stroke="#999" stroke-width="0.4"/>
<text x="357.6" y="576.5" font-size="2.9" text-anchor="end" fill="#222" stroke="#222" stroke-width="0.1">9.5</text>
<path d="M358.5 593.5L359.7 593.5" stroke="#999" stroke-width="0.4"/>
<text x="357.6" y="594.5" font-size="2.9" text-anchor="end" fill="#222" stroke="#222" stroke-width="0.1">9.0</text>
<path d="M358.5 610.8L359.7 610.8" stroke="#999" stroke-width="0.4"/>
<text x="357.6" y="611.8" font-size="2.9" text-anchor="end" fill="#222" stroke="#222" stroke-width="0.1">8.5</text>
<path d="M358.5 628.8L359.7 628.8" stroke="#999" stroke-width="0.4"/>
<text x="357.6" y="629.8" font-size="2.9" text-anchor="end" fill="#222" stroke="#222" stroke-width="0.1">8.0</text>
<path d="M369.95 591.7L369.95 595.2M369.95 603.8L369.95 608.3" stroke="#4c4c4c" stroke-width="0.6" fill="none"/><path d="M369 591.7L370.9 591.7M369 608.3L370.9 608.3" stroke="#5a5a5a" stroke-width="0.45" fill="none"/><rect x="366" y="595.2" width="7.9" height="8.6" fill="#878787" stroke="#5c5c5c" stroke-width="0.45"/><path d="M366 599.3L373.9 599.3" stroke="#111" stroke-width="1.25" fill="none"/>
<path d="M378.25 568.2L378.25 583.1M378.25 593.5L378.25 598" stroke="#4c4c4c" stroke-width="0.6" fill="none"/><path d="M377.21 568.2L379.29 568.2M377.21 598L379.29 598" stroke="#5a5a5a" stroke-width="0.45" fill="none"/><rect x="373.9" y="583.1" width="8.7" height="10.4" fill="#eeeeee" stroke="#9a9a9a" stroke-width="0.45"/><path d="M373.9 591.7L382.6 591.7" stroke="#111" stroke-width="1.25" fill="none"/>
<path d="M394.85 591.7L394.85 595.2M394.85 601.4L394.85 607.3" stroke="#4c4c4c" stroke-width="0.6" fill="none"/><path d="M393.9 591.7L395.8 591.7M393.9 607.3L395.8 607.3" stroke="#5a5a5a" stroke-width="0.45" fill="none"/><rect x="390.9" y="595.2" width="7.9" height="6.2" fill="#878787" stroke="#5c5c5c" stroke-width="0.45"/><path d="M390.9 598.3L398.8 598.3" stroke="#111" stroke-width="1.25" fill="none"/><circle cx="394.85" cy="608.6" r="0.55" fill="none" stroke="#8a8a8a" stroke-width="0.4"/>
<path d="M403.15 581.3L403.15 584.8M403.15 589.3L403.15 591.7" stroke="#4c4c4c" stroke-width="0.6" fill="none"/><path d="M402.11 581.3L404.19 581.3M402.11 591.7L404.19 591.7" stroke="#5a5a5a" stroke-width="0.45" fill="none"/><rect x="398.8" y="584.8" width="8.7" height="4.5" fill="#eeeeee" stroke="#9a9a9a" stroke-width="0.45"/><path d="M398.8 587.2L407.5 587.2" stroke="#111" stroke-width="1.25" fill="none"/>
<path d="M419.65 588.3L419.65 595.2M419.65 605.6L419.65 614.9" stroke="#4c4c4c" stroke-width="0.6" fill="none"/><path d="M418.65 588.3L420.65 588.3M418.65 614.9L420.65 614.9" stroke="#5a5a5a" stroke-width="0.45" fill="none"/><rect x="415.5" y="595.2" width="8.3" height="10.4" fill="#878787" stroke="#5c5c5c" stroke-width="0.45"/><path d="M415.5 600.4L423.8 600.4" stroke="#111" stroke-width="1.25" fill="none"/>
<path d="M428.1 583.1L428.1 588.3M428.1 593.5L428.1 596.2" stroke="#4c4c4c" stroke-width="0.6" fill="none"/><path d="M427.07 583.1L429.13 583.1M427.07 596.2L429.13 596.2" stroke="#5a5a5a" stroke-width="0.45" fill="none"/><rect x="423.8" y="588.3" width="8.6" height="5.2" fill="#eeeeee" stroke="#9a9a9a" stroke-width="0.45"/><path d="M423.8 591L432.4 591" stroke="#111" stroke-width="1.25" fill="none"/>
<path d="M444.35 538.1L444.35 571M444.35 594.5L444.35 605.6" stroke="#4c4c4c" stroke-width="0.6" fill="none"/><path d="M443.4 538.1L445.3 538.1M443.4 605.6L445.3 605.6" stroke="#5a5a5a" stroke-width="0.45" fill="none"/><rect x="440.4" y="571" width="7.9" height="23.5" fill="#878787" stroke="#5c5c5c" stroke-width="0.45"/><path d="M440.4 576.8L448.3 576.8" stroke="#111" stroke-width="1.25" fill="none"/>
<path d="M452.65 550.9L452.65 559.9M452.65 585.8L452.65 599.3" stroke="#4c4c4c" stroke-width="0.6" fill="none"/><path d="M451.61 550.9L453.69 550.9M451.61 599.3L453.69 599.3" stroke="#5a5a5a" stroke-width="0.45" fill="none"/><rect x="448.3" y="559.9" width="8.7" height="25.9" fill="#eeeeee" stroke="#9a9a9a" stroke-width="0.45"/><path d="M448.3 566.5L457 566.5" stroke="#111" stroke-width="1.25" fill="none"/>
<path d="M468.95 543.3L468.95 550.9M468.95 563.3L468.95 581.3" stroke="#4c4c4c" stroke-width="0.6" fill="none"/><path d="M467.91 543.3L469.99 543.3M467.91 581.3L469.99 581.3" stroke="#5a5a5a" stroke-width="0.45" fill="none"/><rect x="464.6" y="550.9" width="8.7" height="12.4" fill="#878787" stroke="#5c5c5c" stroke-width="0.45"/><path d="M464.6 556.1L473.3 556.1" stroke="#111" stroke-width="1.25" fill="none"/>
<path d="M477.6 530.5L477.6 539.8M477.6 557.1L477.6 564" stroke="#4c4c4c" stroke-width="0.6" fill="none"/><path d="M476.57 530.5L478.63 530.5M476.57 564L478.63 564" stroke="#5a5a5a" stroke-width="0.45" fill="none"/><rect x="473.3" y="539.8" width="8.6" height="17.3" fill="#eeeeee" stroke="#9a9a9a" stroke-width="0.45"/><path d="M473.3 546L481.9 546" stroke="#111" stroke-width="1.25" fill="none"/>
<path d="M373.9 634.3L373.9 635.5" stroke="#999" stroke-width="0.4"/>
<text x="373.9" y="639.5" font-size="3" text-anchor="middle" fill="#222" stroke="#222" stroke-width="0.1">normal BM</text>
<path d="M398.8 634.3L398.8 635.5" stroke="#999" stroke-width="0.4"/>
<text x="398.8" y="639.5" font-size="3" text-anchor="middle" fill="#222" stroke="#222" stroke-width="0.1">AML t(8;21)</text>
<path d="M423.8 634.3L423.8 635.5" stroke="#999" stroke-width="0.4"/>
<text x="423.8" y="639.5" font-size="3" text-anchor="middle" fill="#222" stroke="#222" stroke-width="0.1">AML t(15;17)</text>
<path d="M448.3 634.3L448.3 635.5" stroke="#999" stroke-width="0.4"/>
<text x="448.3" y="639.5" font-size="3" text-anchor="middle" fill="#222" stroke="#222" stroke-width="0.1">AML normal</text>
<text x="448.3" y="642.3" font-size="3" text-anchor="middle" fill="#222" stroke="#222" stroke-width="0.1">karyotype NPM</text>
<text x="448.3" y="645.1" font-size="3" text-anchor="middle" fill="#222" stroke="#222" stroke-width="0.1">wildtype</text>
<path d="M473.3 634.3L473.3 635.5" stroke="#999" stroke-width="0.4"/>
<text x="473.3" y="639.5" font-size="3" text-anchor="middle" fill="#222" stroke="#222" stroke-width="0.1">AML normal</text>
<text x="473.3" y="642.3" font-size="3" text-anchor="middle" fill="#222" stroke="#222" stroke-width="0.1">karyotype NPM</text>
<text x="473.3" y="645.1" font-size="3" text-anchor="middle" fill="#222" stroke="#222" stroke-width="0.1">mutated</text>
<rect x="496.5" y="519.4" width="2" height="2.3" fill="#878787" stroke="#555" stroke-width="0.3"/>
<rect x="496.5" y="526.9" width="2" height="2.3" fill="#eeeeee" stroke="#777" stroke-width="0.3"/>
<g font-size="2.95" fill="#222" stroke="#222" stroke-width="0.1">
<text x="499.7" y="519.9">homeobox B5</text>
<text x="499.7" y="523.4">(205600_x_at)</text>
<text x="499.7" y="527.1">homeobox B5</text>
<text x="499.7" y="530.7">(205601_s_at)</text>
</g>
</g>
</svg></body></html>
